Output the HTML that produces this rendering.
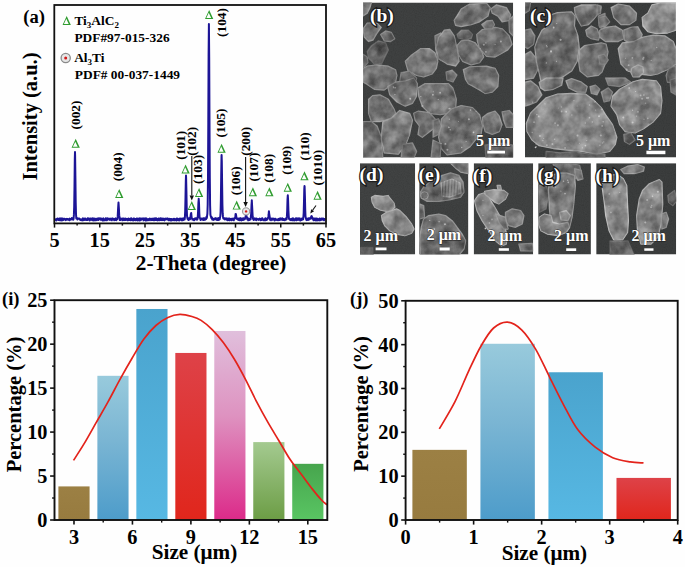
<!DOCTYPE html>
<html><head><meta charset="utf-8"><style>
html,body{margin:0;padding:0;background:#fff;overflow:hidden;}
svg{display:block;}
text{font-family:"Liberation Serif",serif;font-weight:bold;}
</style></head><body>
<svg width="685" height="567" viewBox="0 0 685 567">
<defs>
<linearGradient id="gOl" x1="0" y1="0" x2="0" y2="1"><stop offset="0" stop-color="#9c8044"/><stop offset="1" stop-color="#977b3f"/></linearGradient>
<linearGradient id="gLb" x1="0" y1="0" x2="0" y2="1"><stop offset="0" stop-color="#98cadc"/><stop offset="0.45" stop-color="#7ab5d3"/><stop offset="1" stop-color="#4d9cca"/></linearGradient>
<linearGradient id="gBl" x1="0" y1="0" x2="0" y2="1"><stop offset="0" stop-color="#4aa3cd"/><stop offset="1" stop-color="#57b8e3"/></linearGradient>
<linearGradient id="gRd" x1="0" y1="0" x2="0" y2="1"><stop offset="0" stop-color="#de4248"/><stop offset="1" stop-color="#e0261c"/></linearGradient>
<linearGradient id="gPk" x1="0" y1="0" x2="0" y2="1"><stop offset="0" stop-color="#e0bfdc"/><stop offset="0.45" stop-color="#de92c0"/><stop offset="1" stop-color="#dc2a89"/></linearGradient>
<linearGradient id="gLg" x1="0" y1="0" x2="0" y2="1"><stop offset="0" stop-color="#a4ca90"/><stop offset="1" stop-color="#6c9d45"/></linearGradient>
<linearGradient id="gGr" x1="0" y1="0" x2="0" y2="1"><stop offset="0" stop-color="#47a54d"/><stop offset="1" stop-color="#59c563"/></linearGradient>
<linearGradient id="shade" x1="0" y1="0" x2="1" y2="1"><stop offset="0" stop-color="#fff" stop-opacity="0.10"/><stop offset="0.5" stop-color="#fff" stop-opacity="0"/><stop offset="1" stop-color="#000" stop-opacity="0.12"/></linearGradient>
<filter id="ptex" x="0" y="0" width="100%" height="100%" color-interpolation-filters="sRGB"><feTurbulence type="fractalNoise" baseFrequency="0.08" numOctaves="3" seed="9"/><feColorMatrix type="matrix" values="1.6 0 0 0 -0.33  1.6 0 0 0 -0.33  1.6 0 0 0 -0.33  0 0 0 0 0.3"/><feComposite in2="SourceAlpha" operator="in"/></filter>
<filter id="soft" x="-5%" y="-5%" width="110%" height="110%"><feGaussianBlur stdDeviation="0.45"/></filter>
<filter id="soft2" x="-5%" y="-5%" width="110%" height="110%"><feGaussianBlur stdDeviation="0.9"/></filter>
<filter id="grain" x="0" y="0" width="100%" height="100%"><feTurbulence type="fractalNoise" baseFrequency="0.9" numOctaves="2" seed="4" result="n"/><feColorMatrix in="n" type="matrix" values="0 0 0 0 0.5  0 0 0 0 0.5  0 0 0 0 0.5  0 0 0 0.10 0"/><feComposite in2="SourceGraphic" operator="in"/></filter>
<clipPath id="cpb"><rect x="363" y="2.5" width="150.20" height="155.00"/></clipPath>
<clipPath id="cpc"><rect x="525" y="2.5" width="151.00" height="155.00"/></clipPath>
<clipPath id="cpd"><rect x="360" y="163.2" width="55.20" height="91.30"/></clipPath>
<clipPath id="cpe"><rect x="419.2" y="163.2" width="49.20" height="91.30"/></clipPath>
<clipPath id="cpf"><rect x="473.7" y="163.2" width="59.50" height="91.30"/></clipPath>
<clipPath id="cpg"><rect x="538.2" y="163.2" width="52.70" height="91.30"/></clipPath>
<clipPath id="cph"><rect x="596.2" y="163.2" width="80.00" height="91.30"/></clipPath>
</defs>
<rect width="685" height="567" fill="#fefefe"/>
<g clip-path="url(#cpb)">
<rect x="363" y="2.5" width="150.20" height="155.00" fill="#383a3a"/>
<g filter="url(#soft)">
<polygon points="363.0,2.0 371.5,2.0 370.0,7.6 367.2,13.3 363.0,16.1" fill="#787878" stroke="#9a9a9a" stroke-width="1.26" stroke-linejoin="round"/><polygon points="363.0,2.0 371.5,2.0 370.0,7.6 367.2,13.3 363.0,16.1" fill="url(#shade)"/>
<polygon points="363.0,28.8 367.2,23.2 377.1,23.2 381.3,27.4 377.1,33.0 372.9,40.1 368.6,41.5 364.4,37.3" fill="#6a6a6a" stroke="#939393" stroke-width="1.26" stroke-linejoin="round"/><polygon points="363.0,28.8 367.2,23.2 377.1,23.2 381.3,27.4 377.1,33.0 372.9,40.1 368.6,41.5 364.4,37.3" fill="url(#shade)"/>
<polygon points="380.6,34.5 385.6,30.9 391.2,32.3 394.7,38.7 390.5,41.5 384.2,40.8" fill="#5f5f5f" stroke="#878787" stroke-width="1.26" stroke-linejoin="round"/><polygon points="380.6,34.5 385.6,30.9 391.2,32.3 394.7,38.7 390.5,41.5 384.2,40.8" fill="url(#shade)"/>
<polygon points="371.5,45.7 378.5,40.8 385.6,42.9 388.4,50.0 384.2,58.4 381.3,64.1 374.3,64.1 368.6,58.4 367.2,51.4" fill="#4c4c4c" stroke="#626262" stroke-width="1.26" stroke-linejoin="round"/><polygon points="371.5,45.7 378.5,40.8 385.6,42.9 388.4,50.0 384.2,58.4 381.3,64.1 374.3,64.1 368.6,58.4 367.2,51.4" fill="url(#shade)"/>
<polygon points="363.0,54.2 367.2,57.0 367.9,62.7 364.4,66.9 363.0,66.9" fill="#5c5c5c" stroke="#797979" stroke-width="1.26" stroke-linejoin="round"/><polygon points="363.0,54.2 367.2,57.0 367.9,62.7 364.4,66.9 363.0,66.9" fill="url(#shade)"/>
<polygon points="363.0,68.3 367.2,66.2 377.1,64.8 388.4,66.2 395.5,69.7 396.9,75.4 395.5,82.0 391.2,85.1 384.2,90.0 374.3,89.3 365.8,83.6 363.0,82.0" fill="#666666" stroke="#909090" stroke-width="1.26" stroke-linejoin="round"/><polygon points="363.0,68.3 367.2,66.2 377.1,64.8 388.4,66.2 395.5,69.7 396.9,75.4 395.5,82.0 391.2,85.1 384.2,90.0 374.3,89.3 365.8,83.6 363.0,82.0" fill="url(#shade)"/>
<polygon points="405.3,61.3 411.0,55.6 420.8,48.6 429.3,48.6 435.0,52.8 437.8,61.3 436.4,68.3 432.1,74.0 423.7,76.8 416.6,75.4 408.1,71.1" fill="#6a6a6a" stroke="#959595" stroke-width="1.26" stroke-linejoin="round"/><polygon points="405.3,61.3 411.0,55.6 420.8,48.6 429.3,48.6 435.0,52.8 437.8,61.3 436.4,68.3 432.1,74.0 423.7,76.8 416.6,75.4 408.1,71.1" fill="url(#shade)"/>
<polygon points="435.0,35.9 440.6,33.0 443.0,34.5 443.0,61.3 437.8,58.4 435.7,48.6" fill="#666666" stroke="#8c8c8c" stroke-width="1.26" stroke-linejoin="round"/><polygon points="435.0,35.9 440.6,33.0 443.0,34.5 443.0,61.3 437.8,58.4 435.7,48.6" fill="url(#shade)"/>
<polygon points="401.1,72.5 409.6,71.1 416.6,78.2 415.2,82.0 399.7,82.0" fill="#5c5c5c" stroke="#7e7e7e" stroke-width="1.26" stroke-linejoin="round"/><polygon points="401.1,72.5 409.6,71.1 416.6,78.2 415.2,82.0 399.7,82.0" fill="url(#shade)"/>
<polygon points="454.2,20.3 461.2,9.1 469.7,4.1 486.6,3.4 490.1,7.6 488.0,16.1 479.6,21.8 471.1,24.6 461.2,26.7 455.6,25.3" fill="#6b6b6b" stroke="#959595" stroke-width="1.26" stroke-linejoin="round"/><polygon points="454.2,20.3 461.2,9.1 469.7,4.1 486.6,3.4 490.1,7.6 488.0,16.1 479.6,21.8 471.1,24.6 461.2,26.7 455.6,25.3" fill="url(#shade)"/>
<polygon points="490.8,9.1 496.5,4.8 506.4,7.6 510.6,14.7 509.2,20.3 502.1,21.8 497.9,16.1 492.3,13.3" fill="#6a6a6a" stroke="#939393" stroke-width="1.26" stroke-linejoin="round"/><polygon points="490.8,9.1 496.5,4.8 506.4,7.6 510.6,14.7 509.2,20.3 502.1,21.8 497.9,16.1 492.3,13.3" fill="url(#shade)"/>
<polygon points="476.7,34.5 482.4,29.5 495.1,27.4 502.1,28.8 509.2,35.9 512.0,44.3 507.8,50.0 495.1,57.0 486.6,56.3 479.6,48.6 477.4,41.5" fill="#646464" stroke="#909090" stroke-width="1.26" stroke-linejoin="round"/><polygon points="476.7,34.5 482.4,29.5 495.1,27.4 502.1,28.8 509.2,35.9 512.0,44.3 507.8,50.0 495.1,57.0 486.6,56.3 479.6,48.6 477.4,41.5" fill="url(#shade)"/>
<polygon points="435.8,48.6 438.6,37.3 444.3,30.2 449.9,29.5 454.2,35.9 457.0,48.6 459.1,61.3 455.6,66.2 447.1,64.1 438.6,58.4" fill="#646464" stroke="#939393" stroke-width="1.26" stroke-linejoin="round"/><polygon points="435.8,48.6 438.6,37.3 444.3,30.2 449.9,29.5 454.2,35.9 457.0,48.6 459.1,61.3 455.6,66.2 447.1,64.1 438.6,58.4" fill="url(#shade)"/>
<polygon points="457.0,34.5 461.2,30.2 468.3,30.2 472.5,34.5 471.1,38.7 464.0,39.4 458.4,38.0" fill="#4e4e4e" stroke="#6b6b6b" stroke-width="1.26" stroke-linejoin="round"/><polygon points="457.0,34.5 461.2,30.2 468.3,30.2 472.5,34.5 471.1,38.7 464.0,39.4 458.4,38.0" fill="url(#shade)"/>
<polygon points="457.0,45.7 461.2,40.8 468.3,40.1 475.3,42.9 481.7,51.4 483.8,57.0 479.6,62.7 471.1,64.8 462.6,61.3 458.4,54.2" fill="#666666" stroke="#939393" stroke-width="1.26" stroke-linejoin="round"/><polygon points="457.0,45.7 461.2,40.8 468.3,40.1 475.3,42.9 481.7,51.4 483.8,57.0 479.6,62.7 471.1,64.8 462.6,61.3 458.4,54.2" fill="url(#shade)"/>
<polygon points="481.7,24.6 486.6,21.0 492.3,20.3 494.4,24.6 492.3,28.8 485.2,28.8" fill="#6a6a6a" stroke="#8c8c8c" stroke-width="1.26" stroke-linejoin="round"/><polygon points="481.7,24.6 486.6,21.0 492.3,20.3 494.4,24.6 492.3,28.8 485.2,28.8" fill="url(#shade)"/>
<polygon points="509.0,20.0 513.2,16.0 513.2,36.0 509.5,32.0" fill="#6a6a6a" stroke="#8c8c8c" stroke-width="1.26" stroke-linejoin="round"/><polygon points="509.0,20.0 513.2,16.0 513.2,36.0 509.5,32.0" fill="url(#shade)"/>
<polygon points="463.3,69.7 469.7,66.9 486.6,66.2 495.1,68.3 498.6,75.4 497.9,86.5 492.3,92.1 485.2,93.5 478.2,89.3 468.3,83.6 465.5,79.4" fill="#666666" stroke="#939393" stroke-width="1.26" stroke-linejoin="round"/><polygon points="463.3,69.7 469.7,66.9 486.6,66.2 495.1,68.3 498.6,75.4 497.9,86.5 492.3,92.1 485.2,93.5 478.2,89.3 468.3,83.6 465.5,79.4" fill="url(#shade)"/>
<polygon points="446.0,72.0 452.0,70.0 457.0,75.0 453.0,82.0 447.0,80.0" fill="#5c5c5c" stroke="#7e7e7e" stroke-width="1.26" stroke-linejoin="round"/><polygon points="446.0,72.0 452.0,70.0 457.0,75.0 453.0,82.0 447.0,80.0" fill="url(#shade)"/>
<polygon points="387.7,86.5 395.5,82.2 405.3,80.8 413.8,78.0 417.3,83.6 416.6,96.3 412.4,103.4 405.3,106.2 396.9,102.0 389.8,94.9" fill="#666666" stroke="#939393" stroke-width="1.26" stroke-linejoin="round"/><polygon points="387.7,86.5 395.5,82.2 405.3,80.8 413.8,78.0 417.3,83.6 416.6,96.3 412.4,103.4 405.3,106.2 396.9,102.0 389.8,94.9" fill="url(#shade)"/>
<polygon points="418.0,87.9 425.1,83.6 433.0,83.6 448.5,83.6 452.8,87.9 456.3,99.2 455.6,107.6 448.5,113.3 440.1,114.7 429.3,113.3 422.3,106.2 418.7,96.3" fill="#646464" stroke="#929292" stroke-width="1.26" stroke-linejoin="round"/><polygon points="418.0,87.9 425.1,83.6 433.0,83.6 448.5,83.6 452.8,87.9 456.3,99.2 455.6,107.6 448.5,113.3 440.1,114.7 429.3,113.3 422.3,106.2 418.7,96.3" fill="url(#shade)"/>
<polygon points="368.6,99.2 372.9,95.6 379.9,94.9 388.4,99.2 394.0,109.0 395.5,113.3 391.2,118.9 379.9,121.7 371.5,121.7 368.6,113.3" fill="#646464" stroke="#939393" stroke-width="1.26" stroke-linejoin="round"/><polygon points="368.6,99.2 372.9,95.6 379.9,94.9 388.4,99.2 394.0,109.0 395.5,113.3 391.2,118.9 379.9,121.7 371.5,121.7 368.6,113.3" fill="url(#shade)"/>
<polygon points="363.0,121.7 371.5,121.7 377.1,126.0 381.3,137.3 382.8,158.0 363.0,158.0" fill="#5d5d5d" stroke="#878787" stroke-width="1.26" stroke-linejoin="round"/><polygon points="363.0,121.7 371.5,121.7 377.1,126.0 381.3,137.3 382.8,158.0 363.0,158.0" fill="url(#shade)"/>
<polygon points="382.8,121.7 391.2,118.2 399.7,110.5 409.6,113.3 412.4,120.3 409.6,134.4 405.3,145.7 398.3,154.2 384.2,152.8 381.3,138.7" fill="#787878" stroke="#9e9e9e" stroke-width="1.26" stroke-linejoin="round"/><polygon points="382.8,121.7 391.2,118.2 399.7,110.5 409.6,113.3 412.4,120.3 409.6,134.4 405.3,145.7 398.3,154.2 384.2,152.8 381.3,138.7" fill="url(#shade)"/>
<polygon points="413.8,113.3 418.0,111.2 429.3,112.6 435.0,118.9 437.8,124.6 433.5,128.8 427.9,133.0 422.3,137.3 418.0,134.4 419.4,126.0 415.2,120.3" fill="#6a6a6a" stroke="#939393" stroke-width="1.26" stroke-linejoin="round"/><polygon points="413.8,113.3 418.0,111.2 429.3,112.6 435.0,118.9 437.8,124.6 433.5,128.8 427.9,133.0 422.3,137.3 418.0,134.4 419.4,126.0 415.2,120.3" fill="url(#shade)"/>
<polygon points="402.5,144.3 412.4,142.9 416.6,151.4 413.8,158.0 401.1,158.0" fill="#616161" stroke="#858585" stroke-width="1.26" stroke-linejoin="round"/><polygon points="402.5,144.3 412.4,142.9 416.6,151.4 413.8,158.0 401.1,158.0" fill="url(#shade)"/>
<polygon points="441.5,118.9 451.3,109.0 461.2,105.5 472.5,107.6 479.6,114.7 482.4,126.0 481.0,134.4 475.3,140.1 469.7,147.1 461.2,152.8 447.1,154.9 441.5,148.5 438.6,137.3" fill="#646464" stroke="#939393" stroke-width="1.26" stroke-linejoin="round"/><polygon points="441.5,118.9 451.3,109.0 461.2,105.5 472.5,107.6 479.6,114.7 482.4,126.0 481.0,134.4 475.3,140.1 469.7,147.1 461.2,152.8 447.1,154.9 441.5,148.5 438.6,137.3" fill="url(#shade)"/>
<polygon points="482.4,117.5 488.0,113.3 495.1,111.2 499.3,116.1 502.1,124.6 499.3,131.6 492.3,134.4 485.2,131.6 483.1,124.6" fill="#646464" stroke="#909090" stroke-width="1.26" stroke-linejoin="round"/><polygon points="482.4,117.5 488.0,113.3 495.1,111.2 499.3,116.1 502.1,124.6 499.3,131.6 492.3,134.4 485.2,131.6 483.1,124.6" fill="url(#shade)"/>
<polygon points="502.1,111.9 509.2,110.5 513.2,114.7 513.2,127.4 506.4,127.4 503.5,120.3" fill="#686868" stroke="#8c8c8c" stroke-width="1.26" stroke-linejoin="round"/><polygon points="502.1,111.9 509.2,110.5 513.2,114.7 513.2,127.4 506.4,127.4 503.5,120.3" fill="url(#shade)"/>
<polygon points="433.0,120.3 438.6,118.9 441.5,126.0 438.6,134.4 433.0,137.3" fill="#5c5c5c" stroke="#838383" stroke-width="1.26" stroke-linejoin="round"/><polygon points="433.0,120.3 438.6,118.9 441.5,126.0 438.6,134.4 433.0,137.3" fill="url(#shade)"/>
<polygon points="433.0,140.0 441.0,144.0 440.0,158.0 431.0,158.0" fill="#5c5c5c" stroke="#838383" stroke-width="1.26" stroke-linejoin="round"/><polygon points="433.0,140.0 441.0,144.0 440.0,158.0 431.0,158.0" fill="url(#shade)"/>
<polygon points="485.0,145.0 500.0,143.0 513.2,145.0 513.2,158.0 486.0,158.0" fill="#505050" stroke="#6b6b6b" stroke-width="1.26" stroke-linejoin="round"/><polygon points="485.0,145.0 500.0,143.0 513.2,145.0 513.2,158.0 486.0,158.0" fill="url(#shade)"/>
</g><g>
<circle cx="445.4" cy="143.9" r="0.96" fill="#c8c8c8"/><circle cx="450.2" cy="129.8" r="0.77" fill="#c8c8c8"/><circle cx="466.1" cy="141.5" r="0.56" fill="#c8c8c8"/><circle cx="441.1" cy="143.4" r="0.76" fill="#c8c8c8"/><circle cx="470.5" cy="110.1" r="0.77" fill="#c8c8c8"/><circle cx="468.9" cy="119.2" r="1.07" fill="#c8c8c8"/><circle cx="476.1" cy="111.2" r="0.52" fill="#c8c8c8"/><circle cx="461.7" cy="147.6" r="0.73" fill="#c8c8c8"/><circle cx="448.7" cy="126.9" r="0.52" fill="#c8c8c8"/><circle cx="448.9" cy="127.5" r="0.80" fill="#c8c8c8"/><circle cx="449.3" cy="119.2" r="0.63" fill="#c8c8c8"/><circle cx="458.4" cy="121.6" r="0.51" fill="#c8c8c8"/><circle cx="473.5" cy="132.3" r="0.89" fill="#c8c8c8"/><circle cx="447.4" cy="149.7" r="1.02" fill="#c8c8c8"/><circle cx="448.7" cy="108.7" r="0.53" fill="#c8c8c8"/><circle cx="422.5" cy="105.9" r="0.94" fill="#c8c8c8"/><circle cx="440.1" cy="92.7" r="0.86" fill="#c8c8c8"/><circle cx="438.2" cy="99.5" r="0.60" fill="#c8c8c8"/><circle cx="432.9" cy="94.8" r="0.93" fill="#c8c8c8"/><circle cx="449.8" cy="108.7" r="0.83" fill="#c8c8c8"/><circle cx="433.3" cy="91.7" r="0.52" fill="#c8c8c8"/><circle cx="420.8" cy="96.6" r="0.69" fill="#c8c8c8"/><circle cx="485.9" cy="42.9" r="0.72" fill="#c8c8c8"/><circle cx="495.1" cy="44.5" r="0.54" fill="#c8c8c8"/><circle cx="480.3" cy="48.7" r="0.66" fill="#c8c8c8"/><circle cx="485.9" cy="51.9" r="0.78" fill="#c8c8c8"/><circle cx="500.9" cy="41.5" r="0.88" fill="#c8c8c8"/><circle cx="483.8" cy="44.7" r="1.02" fill="#c8c8c8"/><circle cx="395.2" cy="87.7" r="0.74" fill="#c8c8c8"/><circle cx="393.4" cy="87.1" r="0.74" fill="#c8c8c8"/><circle cx="410.2" cy="98.8" r="0.96" fill="#c8c8c8"/><circle cx="394.9" cy="94.6" r="0.67" fill="#c8c8c8"/><circle cx="393.8" cy="87.7" r="0.63" fill="#c8c8c8"/>
</g>
<g filter="url(#ptex)"><polygon points="363.0,2.0 371.5,2.0 370.0,7.6 367.2,13.3 363.0,16.1" fill="#000"/><polygon points="363.0,28.8 367.2,23.2 377.1,23.2 381.3,27.4 377.1,33.0 372.9,40.1 368.6,41.5 364.4,37.3" fill="#000"/><polygon points="380.6,34.5 385.6,30.9 391.2,32.3 394.7,38.7 390.5,41.5 384.2,40.8" fill="#000"/><polygon points="371.5,45.7 378.5,40.8 385.6,42.9 388.4,50.0 384.2,58.4 381.3,64.1 374.3,64.1 368.6,58.4 367.2,51.4" fill="#000"/><polygon points="363.0,54.2 367.2,57.0 367.9,62.7 364.4,66.9 363.0,66.9" fill="#000"/><polygon points="363.0,68.3 367.2,66.2 377.1,64.8 388.4,66.2 395.5,69.7 396.9,75.4 395.5,82.0 391.2,85.1 384.2,90.0 374.3,89.3 365.8,83.6 363.0,82.0" fill="#000"/><polygon points="405.3,61.3 411.0,55.6 420.8,48.6 429.3,48.6 435.0,52.8 437.8,61.3 436.4,68.3 432.1,74.0 423.7,76.8 416.6,75.4 408.1,71.1" fill="#000"/><polygon points="435.0,35.9 440.6,33.0 443.0,34.5 443.0,61.3 437.8,58.4 435.7,48.6" fill="#000"/><polygon points="401.1,72.5 409.6,71.1 416.6,78.2 415.2,82.0 399.7,82.0" fill="#000"/><polygon points="454.2,20.3 461.2,9.1 469.7,4.1 486.6,3.4 490.1,7.6 488.0,16.1 479.6,21.8 471.1,24.6 461.2,26.7 455.6,25.3" fill="#000"/><polygon points="490.8,9.1 496.5,4.8 506.4,7.6 510.6,14.7 509.2,20.3 502.1,21.8 497.9,16.1 492.3,13.3" fill="#000"/><polygon points="476.7,34.5 482.4,29.5 495.1,27.4 502.1,28.8 509.2,35.9 512.0,44.3 507.8,50.0 495.1,57.0 486.6,56.3 479.6,48.6 477.4,41.5" fill="#000"/><polygon points="435.8,48.6 438.6,37.3 444.3,30.2 449.9,29.5 454.2,35.9 457.0,48.6 459.1,61.3 455.6,66.2 447.1,64.1 438.6,58.4" fill="#000"/><polygon points="457.0,34.5 461.2,30.2 468.3,30.2 472.5,34.5 471.1,38.7 464.0,39.4 458.4,38.0" fill="#000"/><polygon points="457.0,45.7 461.2,40.8 468.3,40.1 475.3,42.9 481.7,51.4 483.8,57.0 479.6,62.7 471.1,64.8 462.6,61.3 458.4,54.2" fill="#000"/><polygon points="481.7,24.6 486.6,21.0 492.3,20.3 494.4,24.6 492.3,28.8 485.2,28.8" fill="#000"/><polygon points="509.0,20.0 513.2,16.0 513.2,36.0 509.5,32.0" fill="#000"/><polygon points="463.3,69.7 469.7,66.9 486.6,66.2 495.1,68.3 498.6,75.4 497.9,86.5 492.3,92.1 485.2,93.5 478.2,89.3 468.3,83.6 465.5,79.4" fill="#000"/><polygon points="446.0,72.0 452.0,70.0 457.0,75.0 453.0,82.0 447.0,80.0" fill="#000"/><polygon points="387.7,86.5 395.5,82.2 405.3,80.8 413.8,78.0 417.3,83.6 416.6,96.3 412.4,103.4 405.3,106.2 396.9,102.0 389.8,94.9" fill="#000"/><polygon points="418.0,87.9 425.1,83.6 433.0,83.6 448.5,83.6 452.8,87.9 456.3,99.2 455.6,107.6 448.5,113.3 440.1,114.7 429.3,113.3 422.3,106.2 418.7,96.3" fill="#000"/><polygon points="368.6,99.2 372.9,95.6 379.9,94.9 388.4,99.2 394.0,109.0 395.5,113.3 391.2,118.9 379.9,121.7 371.5,121.7 368.6,113.3" fill="#000"/><polygon points="363.0,121.7 371.5,121.7 377.1,126.0 381.3,137.3 382.8,158.0 363.0,158.0" fill="#000"/><polygon points="382.8,121.7 391.2,118.2 399.7,110.5 409.6,113.3 412.4,120.3 409.6,134.4 405.3,145.7 398.3,154.2 384.2,152.8 381.3,138.7" fill="#000"/><polygon points="413.8,113.3 418.0,111.2 429.3,112.6 435.0,118.9 437.8,124.6 433.5,128.8 427.9,133.0 422.3,137.3 418.0,134.4 419.4,126.0 415.2,120.3" fill="#000"/><polygon points="402.5,144.3 412.4,142.9 416.6,151.4 413.8,158.0 401.1,158.0" fill="#000"/><polygon points="441.5,118.9 451.3,109.0 461.2,105.5 472.5,107.6 479.6,114.7 482.4,126.0 481.0,134.4 475.3,140.1 469.7,147.1 461.2,152.8 447.1,154.9 441.5,148.5 438.6,137.3" fill="#000"/><polygon points="482.4,117.5 488.0,113.3 495.1,111.2 499.3,116.1 502.1,124.6 499.3,131.6 492.3,134.4 485.2,131.6 483.1,124.6" fill="#000"/><polygon points="502.1,111.9 509.2,110.5 513.2,114.7 513.2,127.4 506.4,127.4 503.5,120.3" fill="#000"/><polygon points="433.0,120.3 438.6,118.9 441.5,126.0 438.6,134.4 433.0,137.3" fill="#000"/><polygon points="433.0,140.0 441.0,144.0 440.0,158.0 431.0,158.0" fill="#000"/><polygon points="485.0,145.0 500.0,143.0 513.2,145.0 513.2,158.0 486.0,158.0" fill="#000"/></g>
<rect x="363" y="2.5" width="150.20" height="155.00" fill="#fff" filter="url(#grain)" opacity="0.9"/>
</g>
<text x="370.0" y="22.2" font-size="19.5" fill="#ffffff" stroke="#1c1c1c" stroke-width="2.6" paint-order="stroke" font-family="'Liberation Serif', serif" font-weight="bold">(b)</text>
<text x="476" y="146.4" font-size="16" fill="#ffffff" stroke="#202020" stroke-width="0.8" paint-order="stroke" font-family="'Liberation Serif', serif" font-weight="bold">5 μm</text>
<rect x="487.3" y="150.7" width="17.70" height="2.80" fill="#ffffff"/>
<g clip-path="url(#cpc)">
<rect x="525" y="2.5" width="151.00" height="155.00" fill="#353737"/>
<g filter="url(#soft)">
<polygon points="525.0,2.0 530.6,2.0 529.2,10.5 525.0,13.3" fill="#616161" stroke="#858585" stroke-width="1.26" stroke-linejoin="round"/><polygon points="525.0,2.0 530.6,2.0 529.2,10.5 525.0,13.3" fill="url(#shade)"/>
<polygon points="525.0,30.2 530.6,28.8 534.9,35.9 533.5,44.3 527.8,48.6 525.0,47.2" fill="#5f5f5f" stroke="#878787" stroke-width="1.26" stroke-linejoin="round"/><polygon points="525.0,30.2 530.6,28.8 534.9,35.9 533.5,44.3 527.8,48.6 525.0,47.2" fill="url(#shade)"/>
<polygon points="525.0,54.2 530.6,51.4 536.3,58.4 537.7,69.7 533.5,78.2 525.0,79.6" fill="#646464" stroke="#909090" stroke-width="1.26" stroke-linejoin="round"/><polygon points="525.0,54.2 530.6,51.4 536.3,58.4 537.7,69.7 533.5,78.2 525.0,79.6" fill="url(#shade)"/>
<polygon points="525.0,82.2 530.6,80.8 537.7,86.5 541.9,94.9 536.3,102.0 529.2,104.8 525.0,106.2" fill="#6a6a6a" stroke="#979797" stroke-width="1.26" stroke-linejoin="round"/><polygon points="525.0,82.2 530.6,80.8 537.7,86.5 541.9,94.9 536.3,102.0 529.2,104.8 525.0,106.2" fill="url(#shade)"/>
<polygon points="534.9,47.2 537.7,38.7 541.9,30.2 547.6,26.0 551.8,14.7 557.5,12.6 571.6,11.9 575.1,16.1 574.4,26.0 577.9,35.9 579.3,48.6 577.2,61.3 571.6,71.1 563.1,76.8 553.2,81.0 546.0,84.0 541.0,82.0 539.1,72.5 536.3,61.3" fill="#5d5d5d" stroke="#9e9e9e" stroke-width="1.26" stroke-linejoin="round"/><polygon points="534.9,47.2 537.7,38.7 541.9,30.2 547.6,26.0 551.8,14.7 557.5,12.6 571.6,11.9 575.1,16.1 574.4,26.0 577.9,35.9 579.3,48.6 577.2,61.3 571.6,71.1 563.1,76.8 553.2,81.0 546.0,84.0 541.0,82.0 539.1,72.5 536.3,61.3" fill="url(#shade)"/>
<polygon points="574.4,7.6 581.4,4.8 595.5,4.8 601.2,7.6 598.4,13.3 592.7,20.3 588.5,24.6 581.4,26.0 577.2,18.9 575.1,13.3" fill="#6a6a6a" stroke="#979797" stroke-width="1.26" stroke-linejoin="round"/><polygon points="574.4,7.6 581.4,4.8 595.5,4.8 601.2,7.6 598.4,13.3 592.7,20.3 588.5,24.6 581.4,26.0 577.2,18.9 575.1,13.3" fill="url(#shade)"/>
<polygon points="585.7,30.2 591.3,26.0 597.0,28.8 599.8,35.9 598.4,40.1 591.3,38.7 587.1,35.9" fill="#6a6a6a" stroke="#939393" stroke-width="1.26" stroke-linejoin="round"/><polygon points="585.7,30.2 591.3,26.0 597.0,28.8 599.8,35.9 598.4,40.1 591.3,38.7 587.1,35.9" fill="url(#shade)"/>
<polygon points="579.3,50.0 584.3,45.7 592.7,44.3 601.2,42.9 606.0,44.0 608.0,52.0 606.0,62.0 602.0,72.0 598.4,75.4 587.1,76.8 580.0,71.1 578.6,61.3" fill="#666666" stroke="#959595" stroke-width="1.26" stroke-linejoin="round"/><polygon points="579.3,50.0 584.3,45.7 592.7,44.3 601.2,42.9 606.0,44.0 608.0,52.0 606.0,62.0 602.0,72.0 598.4,75.4 587.1,76.8 580.0,71.1 578.6,61.3" fill="url(#shade)"/>
<polygon points="598.4,16.1 605.0,13.3 605.0,30.2 599.8,27.4" fill="#5f5f5f" stroke="#848484" stroke-width="1.26" stroke-linejoin="round"/><polygon points="598.4,16.1 605.0,13.3 605.0,30.2 599.8,27.4" fill="url(#shade)"/>
<polygon points="597.0,4.8 601.2,6.2 600.5,13.3 597.0,14.7" fill="#616161" stroke="#858585" stroke-width="1.26" stroke-linejoin="round"/><polygon points="597.0,4.8 601.2,6.2 600.5,13.3 597.0,14.7" fill="url(#shade)"/>
<polygon points="611.1,7.6 618.2,4.1 629.5,6.2 636.5,13.3 635.8,20.3 629.5,24.6 621.0,24.6 613.9,17.5" fill="#6d6d6d" stroke="#9e9e9e" stroke-width="1.26" stroke-linejoin="round"/><polygon points="611.1,7.6 618.2,4.1 629.5,6.2 636.5,13.3 635.8,20.3 629.5,24.6 621.0,24.6 613.9,17.5" fill="url(#shade)"/>
<polygon points="642.2,17.5 647.8,13.3 652.0,4.8 661.9,2.7 676.0,3.4 676.0,30.2 667.5,33.0 656.3,33.7 647.8,31.6 642.9,26.0" fill="#8e8e8e" stroke="#bababa" stroke-width="1.26" stroke-linejoin="round"/><polygon points="642.2,17.5 647.8,13.3 652.0,4.8 661.9,2.7 676.0,3.4 676.0,30.2 667.5,33.0 656.3,33.7 647.8,31.6 642.9,26.0" fill="url(#shade)"/>
<polygon points="599.8,30.2 605.5,27.4 615.3,26.0 622.4,30.2 623.8,38.7 618.2,41.5 605.5,41.5 599.8,37.3" fill="#6d6d6d" stroke="#9a9a9a" stroke-width="1.26" stroke-linejoin="round"/><polygon points="599.8,30.2 605.5,27.4 615.3,26.0 622.4,30.2 623.8,38.7 618.2,41.5 605.5,41.5 599.8,37.3" fill="url(#shade)"/>
<polygon points="623.8,30.2 630.9,27.4 637.9,26.7 642.2,34.5 639.3,42.9 630.9,44.3 624.5,40.1" fill="#646464" stroke="#909090" stroke-width="1.26" stroke-linejoin="round"/><polygon points="623.8,30.2 630.9,27.4 637.9,26.7 642.2,34.5 639.3,42.9 630.9,44.3 624.5,40.1" fill="url(#shade)"/>
<polygon points="618.2,48.6 622.4,42.9 633.7,41.5 642.2,37.3 653.4,35.2 664.7,35.9 673.2,41.5 676.0,48.6 676.0,64.1 670.4,68.3 657.7,74.0 650.6,75.4 639.3,74.0 628.0,71.1 621.0,64.1" fill="#797979" stroke="#a5a5a5" stroke-width="1.26" stroke-linejoin="round"/><polygon points="618.2,48.6 622.4,42.9 633.7,41.5 642.2,37.3 653.4,35.2 664.7,35.9 673.2,41.5 676.0,48.6 676.0,64.1 670.4,68.3 657.7,74.0 650.6,75.4 639.3,74.0 628.0,71.1 621.0,64.1" fill="url(#shade)"/>
<polygon points="631.6,68.3 637.9,64.8 642.9,66.9 643.6,72.5 639.3,76.8 633.0,76.8 630.9,72.5" fill="#787878" stroke="#a8a8a8" stroke-width="1.26" stroke-linejoin="round"/><polygon points="631.6,68.3 637.9,64.8 642.9,66.9 643.6,72.5 639.3,76.8 633.0,76.8 630.9,72.5" fill="url(#shade)"/>
<polygon points="598.4,55.6 604.1,54.2 608.3,59.9 605.5,64.1 599.8,64.1" fill="#5c5c5c" stroke="#7e7e7e" stroke-width="1.26" stroke-linejoin="round"/><polygon points="598.4,55.6 604.1,54.2 608.3,59.9 605.5,64.1 599.8,64.1" fill="url(#shade)"/>
<polygon points="669.0,68.3 676.0,65.5 676.0,82.0 667.5,82.0 666.1,75.4" fill="#5f5f5f" stroke="#848484" stroke-width="1.26" stroke-linejoin="round"/><polygon points="669.0,68.3 676.0,65.5 676.0,82.0 667.5,82.0 666.1,75.4" fill="url(#shade)"/>
<polygon points="598.4,17.5 605.5,16.1 609.7,21.8 605.5,26.7 599.1,26.0" fill="#5c5c5c" stroke="#7e7e7e" stroke-width="1.26" stroke-linejoin="round"/><polygon points="598.4,17.5 605.5,16.1 609.7,21.8 605.5,26.7 599.1,26.0" fill="url(#shade)"/>
<polygon points="539.1,82.2 546.2,78.0 563.1,78.0 561.7,85.1 553.2,89.3 544.8,90.7 540.5,87.9" fill="#6a6a6a" stroke="#9a9a9a" stroke-width="1.26" stroke-linejoin="round"/><polygon points="539.1,82.2 546.2,78.0 563.1,78.0 561.7,85.1 553.2,89.3 544.8,90.7 540.5,87.9" fill="url(#shade)"/>
<polygon points="565.9,80.8 571.6,78.7 581.4,82.2 587.1,86.5 585.7,92.1 577.2,92.1 568.7,87.9" fill="#6b6b6b" stroke="#9a9a9a" stroke-width="1.26" stroke-linejoin="round"/><polygon points="565.9,80.8 571.6,78.7 581.4,82.2 587.1,86.5 585.7,92.1 577.2,92.1 568.7,87.9" fill="url(#shade)"/>
<polygon points="589.9,86.5 595.5,85.1 599.8,89.3 597.0,94.9 591.3,93.5" fill="#5f5f5f" stroke="#858585" stroke-width="1.26" stroke-linejoin="round"/><polygon points="589.9,86.5 595.5,85.1 599.8,89.3 597.0,94.9 591.3,93.5" fill="url(#shade)"/>
<polygon points="601.2,92.1 608.3,87.9 612.5,92.1 609.7,100.6 604.1,102.0" fill="#5f5f5f" stroke="#858585" stroke-width="1.26" stroke-linejoin="round"/><polygon points="601.2,92.1 608.3,87.9 612.5,92.1 609.7,100.6 604.1,102.0" fill="url(#shade)"/>
<polygon points="605.5,78.0 625.2,78.0 630.9,82.2 619.6,86.5 608.3,85.1" fill="#5c5c5c" stroke="#7e7e7e" stroke-width="1.26" stroke-linejoin="round"/><polygon points="605.5,78.0 625.2,78.0 630.9,82.2 619.6,86.5 608.3,85.1" fill="url(#shade)"/>
<polygon points="526.4,123.2 530.6,113.3 539.1,104.8 546.2,97.8 557.5,94.2 571.6,93.5 585.7,94.2 592.7,99.2 601.2,107.6 605.5,114.7 612.5,124.6 616.8,137.3 615.3,144.3 609.7,151.4 597.0,154.2 581.4,151.4 567.3,150.0 553.2,148.5 539.1,145.7 532.1,140.1 527.1,131.6" fill="#878787" stroke="#b0b0b0" stroke-width="1.26" stroke-linejoin="round"/><polygon points="526.4,123.2 530.6,113.3 539.1,104.8 546.2,97.8 557.5,94.2 571.6,93.5 585.7,94.2 592.7,99.2 601.2,107.6 605.5,114.7 612.5,124.6 616.8,137.3 615.3,144.3 609.7,151.4 597.0,154.2 581.4,151.4 567.3,150.0 553.2,148.5 539.1,145.7 532.1,140.1 527.1,131.6" fill="url(#shade)"/>
<polygon points="612.5,96.3 619.6,89.3 632.3,82.2 642.2,79.4 656.3,80.8 660.5,86.5 661.9,100.6 660.5,113.3 653.4,121.7 643.6,128.8 635.1,133.0 625.2,131.6 619.6,124.6 616.8,114.7 611.1,106.2" fill="#848484" stroke="#b1b1b1" stroke-width="1.26" stroke-linejoin="round"/><polygon points="612.5,96.3 619.6,89.3 632.3,82.2 642.2,79.4 656.3,80.8 660.5,86.5 661.9,100.6 660.5,113.3 653.4,121.7 643.6,128.8 635.1,133.0 625.2,131.6 619.6,124.6 616.8,114.7 611.1,106.2" fill="url(#shade)"/>
<polygon points="623.8,134.4 630.9,133.0 635.1,140.1 629.5,144.3 624.5,141.5" fill="#5c5c5c" stroke="#7e7e7e" stroke-width="1.26" stroke-linejoin="round"/><polygon points="623.8,134.4 630.9,133.0 635.1,140.1 629.5,144.3 624.5,141.5" fill="url(#shade)"/>
<polygon points="546.2,151.4 560.3,152.8 574.4,151.4 588.5,154.2 605.0,154.2 605.0,158.0 546.2,158.0" fill="#535353" stroke="#707070" stroke-width="1.26" stroke-linejoin="round"/><polygon points="546.2,151.4 560.3,152.8 574.4,151.4 588.5,154.2 605.0,154.2 605.0,158.0 546.2,158.0" fill="url(#shade)"/>
<polygon points="670.0,80.0 676.0,78.0 676.0,95.0 671.0,92.0" fill="#5c5c5c" stroke="#7e7e7e" stroke-width="1.26" stroke-linejoin="round"/><polygon points="670.0,80.0 676.0,78.0 676.0,95.0 671.0,92.0" fill="url(#shade)"/>
</g><g>
<circle cx="577.5" cy="135.6" r="0.98" fill="#c8c8c8"/><circle cx="600.8" cy="135.5" r="1.05" fill="#c8c8c8"/><circle cx="534.1" cy="122.3" r="1.07" fill="#c8c8c8"/><circle cx="579.4" cy="143.2" r="0.57" fill="#c8c8c8"/><circle cx="566.2" cy="111.8" r="0.83" fill="#c8c8c8"/><circle cx="573.9" cy="100.6" r="0.63" fill="#c8c8c8"/><circle cx="552.4" cy="144.0" r="0.96" fill="#c8c8c8"/><circle cx="543.7" cy="138.3" r="0.58" fill="#c8c8c8"/><circle cx="577.1" cy="106.1" r="0.50" fill="#c8c8c8"/><circle cx="595.6" cy="110.1" r="0.63" fill="#c8c8c8"/><circle cx="603.7" cy="141.9" r="0.67" fill="#c8c8c8"/><circle cx="602.2" cy="125.9" r="0.91" fill="#c8c8c8"/><circle cx="546.9" cy="145.2" r="0.91" fill="#c8c8c8"/><circle cx="602.6" cy="142.9" r="0.68" fill="#c8c8c8"/><circle cx="558.4" cy="108.0" r="0.59" fill="#c8c8c8"/><circle cx="536.8" cy="114.5" r="0.86" fill="#c8c8c8"/><circle cx="532.2" cy="132.5" r="0.70" fill="#c8c8c8"/><circle cx="554.6" cy="139.3" r="0.79" fill="#c8c8c8"/><circle cx="555.1" cy="123.1" r="0.92" fill="#c8c8c8"/><circle cx="536.2" cy="146.8" r="0.51" fill="#c8c8c8"/><circle cx="586.7" cy="140.6" r="0.51" fill="#c8c8c8"/><circle cx="589.5" cy="117.6" r="0.85" fill="#c8c8c8"/><circle cx="532.7" cy="102.2" r="0.61" fill="#c8c8c8"/><circle cx="601.7" cy="109.4" r="0.95" fill="#c8c8c8"/><circle cx="599.9" cy="145.2" r="0.71" fill="#c8c8c8"/><circle cx="557.9" cy="125.2" r="0.97" fill="#c8c8c8"/><circle cx="539.9" cy="135.9" r="0.98" fill="#c8c8c8"/><circle cx="594.8" cy="101.8" r="1.07" fill="#c8c8c8"/><circle cx="538.7" cy="116.4" r="0.87" fill="#c8c8c8"/><circle cx="599.0" cy="116.3" r="1.05" fill="#c8c8c8"/><circle cx="571.8" cy="115.0" r="0.69" fill="#c8c8c8"/><circle cx="545.0" cy="103.8" r="0.59" fill="#c8c8c8"/><circle cx="582.3" cy="147.8" r="0.60" fill="#c8c8c8"/><circle cx="535.5" cy="147.4" r="0.82" fill="#c8c8c8"/><circle cx="561.6" cy="111.4" r="0.86" fill="#c8c8c8"/><circle cx="592.3" cy="121.9" r="0.75" fill="#c8c8c8"/><circle cx="536.1" cy="144.0" r="0.52" fill="#c8c8c8"/><circle cx="568.0" cy="140.2" r="0.58" fill="#c8c8c8"/><circle cx="585.4" cy="145.6" r="0.88" fill="#c8c8c8"/><circle cx="589.5" cy="105.1" r="0.76" fill="#c8c8c8"/><circle cx="542.9" cy="140.5" r="0.68" fill="#c8c8c8"/><circle cx="565.1" cy="148.0" r="1.01" fill="#c8c8c8"/><circle cx="603.2" cy="121.8" r="0.79" fill="#c8c8c8"/><circle cx="585.3" cy="123.0" r="0.67" fill="#c8c8c8"/><circle cx="561.5" cy="107.0" r="0.73" fill="#c8c8c8"/><circle cx="647.8" cy="118.4" r="0.79" fill="#c8c8c8"/><circle cx="629.2" cy="88.0" r="0.90" fill="#c8c8c8"/><circle cx="636.5" cy="116.1" r="0.72" fill="#c8c8c8"/><circle cx="647.0" cy="98.1" r="0.98" fill="#c8c8c8"/><circle cx="645.5" cy="103.3" r="0.82" fill="#c8c8c8"/><circle cx="643.9" cy="95.1" r="0.83" fill="#c8c8c8"/><circle cx="648.2" cy="97.8" r="0.98" fill="#c8c8c8"/><circle cx="644.0" cy="119.2" r="0.70" fill="#c8c8c8"/><circle cx="623.3" cy="117.6" r="0.98" fill="#c8c8c8"/><circle cx="635.6" cy="91.5" r="0.62" fill="#c8c8c8"/><circle cx="642.2" cy="98.8" r="1.07" fill="#c8c8c8"/><circle cx="640.6" cy="95.4" r="0.89" fill="#c8c8c8"/><circle cx="632.6" cy="122.5" r="1.05" fill="#c8c8c8"/><circle cx="638.0" cy="111.8" r="0.92" fill="#c8c8c8"/><circle cx="648.2" cy="124.1" r="0.52" fill="#c8c8c8"/><circle cx="632.6" cy="110.3" r="0.68" fill="#c8c8c8"/><circle cx="553.7" cy="27.5" r="0.89" fill="#c8c8c8"/><circle cx="547.0" cy="46.8" r="0.72" fill="#c8c8c8"/><circle cx="546.6" cy="45.4" r="0.52" fill="#c8c8c8"/><circle cx="556.7" cy="23.5" r="0.55" fill="#c8c8c8"/><circle cx="556.5" cy="61.3" r="0.57" fill="#c8c8c8"/><circle cx="551.0" cy="51.4" r="1.07" fill="#c8c8c8"/><circle cx="560.6" cy="39.8" r="1.09" fill="#c8c8c8"/><circle cx="546.3" cy="62.9" r="0.67" fill="#c8c8c8"/><circle cx="643.1" cy="59.0" r="1.05" fill="#c8c8c8"/><circle cx="643.6" cy="57.7" r="0.85" fill="#c8c8c8"/><circle cx="632.4" cy="57.8" r="0.88" fill="#c8c8c8"/><circle cx="656.7" cy="47.4" r="0.68" fill="#c8c8c8"/><circle cx="628.6" cy="65.2" r="0.92" fill="#c8c8c8"/><circle cx="626.7" cy="69.6" r="1.08" fill="#c8c8c8"/><circle cx="651.2" cy="60.4" r="0.59" fill="#c8c8c8"/><circle cx="625.6" cy="58.2" r="0.54" fill="#c8c8c8"/>
</g>
<g filter="url(#ptex)"><polygon points="525.0,2.0 530.6,2.0 529.2,10.5 525.0,13.3" fill="#000"/><polygon points="525.0,30.2 530.6,28.8 534.9,35.9 533.5,44.3 527.8,48.6 525.0,47.2" fill="#000"/><polygon points="525.0,54.2 530.6,51.4 536.3,58.4 537.7,69.7 533.5,78.2 525.0,79.6" fill="#000"/><polygon points="525.0,82.2 530.6,80.8 537.7,86.5 541.9,94.9 536.3,102.0 529.2,104.8 525.0,106.2" fill="#000"/><polygon points="534.9,47.2 537.7,38.7 541.9,30.2 547.6,26.0 551.8,14.7 557.5,12.6 571.6,11.9 575.1,16.1 574.4,26.0 577.9,35.9 579.3,48.6 577.2,61.3 571.6,71.1 563.1,76.8 553.2,81.0 546.0,84.0 541.0,82.0 539.1,72.5 536.3,61.3" fill="#000"/><polygon points="574.4,7.6 581.4,4.8 595.5,4.8 601.2,7.6 598.4,13.3 592.7,20.3 588.5,24.6 581.4,26.0 577.2,18.9 575.1,13.3" fill="#000"/><polygon points="585.7,30.2 591.3,26.0 597.0,28.8 599.8,35.9 598.4,40.1 591.3,38.7 587.1,35.9" fill="#000"/><polygon points="579.3,50.0 584.3,45.7 592.7,44.3 601.2,42.9 606.0,44.0 608.0,52.0 606.0,62.0 602.0,72.0 598.4,75.4 587.1,76.8 580.0,71.1 578.6,61.3" fill="#000"/><polygon points="598.4,16.1 605.0,13.3 605.0,30.2 599.8,27.4" fill="#000"/><polygon points="597.0,4.8 601.2,6.2 600.5,13.3 597.0,14.7" fill="#000"/><polygon points="611.1,7.6 618.2,4.1 629.5,6.2 636.5,13.3 635.8,20.3 629.5,24.6 621.0,24.6 613.9,17.5" fill="#000"/><polygon points="642.2,17.5 647.8,13.3 652.0,4.8 661.9,2.7 676.0,3.4 676.0,30.2 667.5,33.0 656.3,33.7 647.8,31.6 642.9,26.0" fill="#000"/><polygon points="599.8,30.2 605.5,27.4 615.3,26.0 622.4,30.2 623.8,38.7 618.2,41.5 605.5,41.5 599.8,37.3" fill="#000"/><polygon points="623.8,30.2 630.9,27.4 637.9,26.7 642.2,34.5 639.3,42.9 630.9,44.3 624.5,40.1" fill="#000"/><polygon points="618.2,48.6 622.4,42.9 633.7,41.5 642.2,37.3 653.4,35.2 664.7,35.9 673.2,41.5 676.0,48.6 676.0,64.1 670.4,68.3 657.7,74.0 650.6,75.4 639.3,74.0 628.0,71.1 621.0,64.1" fill="#000"/><polygon points="631.6,68.3 637.9,64.8 642.9,66.9 643.6,72.5 639.3,76.8 633.0,76.8 630.9,72.5" fill="#000"/><polygon points="598.4,55.6 604.1,54.2 608.3,59.9 605.5,64.1 599.8,64.1" fill="#000"/><polygon points="669.0,68.3 676.0,65.5 676.0,82.0 667.5,82.0 666.1,75.4" fill="#000"/><polygon points="598.4,17.5 605.5,16.1 609.7,21.8 605.5,26.7 599.1,26.0" fill="#000"/><polygon points="539.1,82.2 546.2,78.0 563.1,78.0 561.7,85.1 553.2,89.3 544.8,90.7 540.5,87.9" fill="#000"/><polygon points="565.9,80.8 571.6,78.7 581.4,82.2 587.1,86.5 585.7,92.1 577.2,92.1 568.7,87.9" fill="#000"/><polygon points="589.9,86.5 595.5,85.1 599.8,89.3 597.0,94.9 591.3,93.5" fill="#000"/><polygon points="601.2,92.1 608.3,87.9 612.5,92.1 609.7,100.6 604.1,102.0" fill="#000"/><polygon points="605.5,78.0 625.2,78.0 630.9,82.2 619.6,86.5 608.3,85.1" fill="#000"/><polygon points="526.4,123.2 530.6,113.3 539.1,104.8 546.2,97.8 557.5,94.2 571.6,93.5 585.7,94.2 592.7,99.2 601.2,107.6 605.5,114.7 612.5,124.6 616.8,137.3 615.3,144.3 609.7,151.4 597.0,154.2 581.4,151.4 567.3,150.0 553.2,148.5 539.1,145.7 532.1,140.1 527.1,131.6" fill="#000"/><polygon points="612.5,96.3 619.6,89.3 632.3,82.2 642.2,79.4 656.3,80.8 660.5,86.5 661.9,100.6 660.5,113.3 653.4,121.7 643.6,128.8 635.1,133.0 625.2,131.6 619.6,124.6 616.8,114.7 611.1,106.2" fill="#000"/><polygon points="623.8,134.4 630.9,133.0 635.1,140.1 629.5,144.3 624.5,141.5" fill="#000"/><polygon points="546.2,151.4 560.3,152.8 574.4,151.4 588.5,154.2 605.0,154.2 605.0,158.0 546.2,158.0" fill="#000"/><polygon points="670.0,80.0 676.0,78.0 676.0,95.0 671.0,92.0" fill="#000"/></g>
<rect x="525" y="2.5" width="151.00" height="155.00" fill="#fff" filter="url(#grain)" opacity="0.9"/>
</g>
<text x="530.0" y="22.0" font-size="19.5" fill="#ffffff" stroke="#1c1c1c" stroke-width="2.6" paint-order="stroke" font-family="'Liberation Serif', serif" font-weight="bold">(c)</text>
<text x="636" y="145.8" font-size="16" fill="#ffffff" stroke="#202020" stroke-width="0.8" paint-order="stroke" font-family="'Liberation Serif', serif" font-weight="bold">5 μm</text>
<rect x="646.4" y="150.7" width="19.00" height="3.50" fill="#ffffff"/>
<g clip-path="url(#cpd)">
<rect x="360" y="163.2" width="55.20" height="91.30" fill="#3a3c3c"/>
<g filter="url(#soft)">
<polygon points="360.5,247.5 373.1,247.5 373.1,254.5 360.5,254.5" fill="#454545" stroke="#4d4d4d" stroke-width="1.26" stroke-linejoin="round"/><polygon points="360.5,247.5 373.1,247.5 373.1,254.5 360.5,254.5" fill="url(#shade)"/>
<polygon points="371.4,197.2 374.8,195.5 383.1,196.4 388.2,195.5 389.8,198.0 394.0,203.1 394.9,207.2 391.5,210.6 386.5,211.4 379.8,209.8 374.8,207.2 372.2,202.2" fill="#999999" stroke="#b7b7b7" stroke-width="1.26" stroke-linejoin="round"/><polygon points="371.4,197.2 374.8,195.5 383.1,196.4 388.2,195.5 389.8,198.0 394.0,203.1 394.9,207.2 391.5,210.6 386.5,211.4 379.8,209.8 374.8,207.2 372.2,202.2" fill="url(#shade)"/>
<polygon points="381.5,215.6 386.5,212.3 391.5,210.6 396.5,208.9 399.9,210.6 406.6,217.3 411.6,224.0 414.1,229.0 411.6,233.2 404.9,235.7 396.5,234.1 389.8,230.7 384.8,225.7 382.3,220.7" fill="#8c8c8c" stroke="#b3b3b3" stroke-width="1.26" stroke-linejoin="round"/><polygon points="381.5,215.6 386.5,212.3 391.5,210.6 396.5,208.9 399.9,210.6 406.6,217.3 411.6,224.0 414.1,229.0 411.6,233.2 404.9,235.7 396.5,234.1 389.8,230.7 384.8,225.7 382.3,220.7" fill="url(#shade)"/>
</g><g>
</g>
<g filter="url(#ptex)"><polygon points="360.5,247.5 373.1,247.5 373.1,254.5 360.5,254.5" fill="#000"/><polygon points="371.4,197.2 374.8,195.5 383.1,196.4 388.2,195.5 389.8,198.0 394.0,203.1 394.9,207.2 391.5,210.6 386.5,211.4 379.8,209.8 374.8,207.2 372.2,202.2" fill="#000"/><polygon points="381.5,215.6 386.5,212.3 391.5,210.6 396.5,208.9 399.9,210.6 406.6,217.3 411.6,224.0 414.1,229.0 411.6,233.2 404.9,235.7 396.5,234.1 389.8,230.7 384.8,225.7 382.3,220.7" fill="#000"/></g>
<rect x="360" y="163.2" width="55.20" height="91.30" fill="#fff" filter="url(#grain)" opacity="0.9"/>
</g>
<g clip-path="url(#cpe)">
<rect x="419.2" y="163.2" width="49.20" height="91.30" fill="#383a3a"/>
<g filter="url(#soft)">
<polygon points="450.5,163.2 468.4,163.2 468.4,173.7 460.6,172.1 455.5,167.9" fill="#787878" stroke="#a1a1a1" stroke-width="1.26" stroke-linejoin="round"/><polygon points="450.5,163.2 468.4,163.2 468.4,173.7 460.6,172.1 455.5,167.9" fill="url(#shade)"/>
<polygon points="420.4,192.2 423.7,187.1 432.1,180.4 442.1,175.4 450.5,172.9 458.9,175.4 463.1,182.1 463.9,192.2 460.6,197.2 450.5,199.7 438.8,201.4 427.1,201.4 421.2,198.0" fill="#5f5f5f" stroke="#8c8c8c" stroke-width="1.26" stroke-linejoin="round"/><polygon points="420.4,192.2 423.7,187.1 432.1,180.4 442.1,175.4 450.5,172.9 458.9,175.4 463.1,182.1 463.9,192.2 460.6,197.2 450.5,199.7 438.8,201.4 427.1,201.4 421.2,198.0" fill="url(#shade)"/>
<polygon points="441.0,183.0 452.0,179.0 460.0,183.0 461.0,193.0 450.0,197.0 442.0,196.0" fill="#858585" stroke="#a8a8a8" stroke-width="1.26" stroke-linejoin="round"/><polygon points="441.0,183.0 452.0,179.0 460.0,183.0 461.0,193.0 450.0,197.0 442.0,196.0" fill="url(#shade)"/>
<polygon points="419.5,203.9 423.7,205.6 424.5,217.3 419.5,219.0" fill="#6a6a6a" stroke="#909090" stroke-width="1.26" stroke-linejoin="round"/><polygon points="419.5,203.9 423.7,205.6 424.5,217.3 419.5,219.0" fill="url(#shade)"/>
<polygon points="423.7,219.0 428.7,215.6 438.8,214.0 445.5,215.6 452.2,220.7 457.2,227.4 462.2,234.1 465.6,240.8 463.9,249.1 458.9,255.0 420.4,255.0 419.5,239.1 421.2,227.4" fill="#5d5d5d" stroke="#939393" stroke-width="1.26" stroke-linejoin="round"/><polygon points="423.7,219.0 428.7,215.6 438.8,214.0 445.5,215.6 452.2,220.7 457.2,227.4 462.2,234.1 465.6,240.8 463.9,249.1 458.9,255.0 420.4,255.0 419.5,239.1 421.2,227.4" fill="url(#shade)"/>
</g><g>
<line x1="443" y1="181.0" x2="442" y2="197.0" stroke="#5a5a5a" stroke-width="0.9"/><line x1="446" y1="180.6" x2="445" y2="196.7" stroke="#5a5a5a" stroke-width="0.9"/><line x1="449" y1="180.2" x2="448" y2="196.4" stroke="#5a5a5a" stroke-width="0.9"/><line x1="452" y1="179.8" x2="451" y2="196.1" stroke="#5a5a5a" stroke-width="0.9"/><line x1="455" y1="179.4" x2="454" y2="195.8" stroke="#5a5a5a" stroke-width="0.9"/><line x1="458" y1="179.0" x2="457" y2="195.5" stroke="#5a5a5a" stroke-width="0.9"/><circle cx="424.5" cy="195.5" r="3.8" fill="none" stroke="#a0a0a0" stroke-width="1"/><circle cx="429.5" cy="239.2" r="0.58" fill="#c8c8c8"/><circle cx="439.1" cy="221.7" r="0.65" fill="#c8c8c8"/><circle cx="445.0" cy="224.2" r="0.89" fill="#c8c8c8"/><circle cx="434.2" cy="229.1" r="0.80" fill="#c8c8c8"/><circle cx="428.8" cy="236.6" r="0.55" fill="#c8c8c8"/><circle cx="429.7" cy="220.4" r="0.66" fill="#c8c8c8"/>
</g>
<g filter="url(#ptex)"><polygon points="450.5,163.2 468.4,163.2 468.4,173.7 460.6,172.1 455.5,167.9" fill="#000"/><polygon points="420.4,192.2 423.7,187.1 432.1,180.4 442.1,175.4 450.5,172.9 458.9,175.4 463.1,182.1 463.9,192.2 460.6,197.2 450.5,199.7 438.8,201.4 427.1,201.4 421.2,198.0" fill="#000"/><polygon points="441.0,183.0 452.0,179.0 460.0,183.0 461.0,193.0 450.0,197.0 442.0,196.0" fill="#000"/><polygon points="419.5,203.9 423.7,205.6 424.5,217.3 419.5,219.0" fill="#000"/><polygon points="423.7,219.0 428.7,215.6 438.8,214.0 445.5,215.6 452.2,220.7 457.2,227.4 462.2,234.1 465.6,240.8 463.9,249.1 458.9,255.0 420.4,255.0 419.5,239.1 421.2,227.4" fill="#000"/></g>
<rect x="419.2" y="163.2" width="49.20" height="91.30" fill="#fff" filter="url(#grain)" opacity="0.9"/>
</g>
<g clip-path="url(#cpf)">
<rect x="473.7" y="163.2" width="59.50" height="91.30" fill="#393b3b"/>
<g filter="url(#soft)">
<polygon points="474.5,200.5 478.7,194.7 483.7,193.0 488.8,197.2 493.8,205.6 499.6,215.6 504.7,227.3 507.2,235.7 506.3,244.1 501.3,245.8 495.5,240.7 488.8,230.7 482.1,220.6 477.0,210.6" fill="#8b8b8b" stroke="#b3b3b3" stroke-width="1.26" stroke-linejoin="round"/><polygon points="474.5,200.5 478.7,194.7 483.7,193.0 488.8,197.2 493.8,205.6 499.6,215.6 504.7,227.3 507.2,235.7 506.3,244.1 501.3,245.8 495.5,240.7 488.8,230.7 482.1,220.6 477.0,210.6" fill="url(#shade)"/>
<polygon points="484.6,191.3 493.8,189.6 503.8,190.5 508.0,193.8 505.5,198.9 498.8,203.9 494.6,202.2 488.8,197.2 485.4,194.7" fill="#8e8e8e" stroke="#b3b3b3" stroke-width="1.26" stroke-linejoin="round"/><polygon points="484.6,191.3 493.8,189.6 503.8,190.5 508.0,193.8 505.5,198.9 498.8,203.9 494.6,202.2 488.8,197.2 485.4,194.7" fill="url(#shade)"/>
<polygon points="497.1,185.5 500.5,185.5 501.3,189.6 498.0,189.6" fill="#8b8b8b" stroke="#b0b0b0" stroke-width="1.26" stroke-linejoin="round"/><polygon points="497.1,185.5 500.5,185.5 501.3,189.6 498.0,189.6" fill="url(#shade)"/>
<polygon points="505.5,212.3 512.2,208.9 520.6,210.6 523.9,215.6 522.3,224.0 515.6,227.3 508.9,225.7 505.5,220.6" fill="#646464" stroke="#939393" stroke-width="1.26" stroke-linejoin="round"/><polygon points="505.5,212.3 512.2,208.9 520.6,210.6 523.9,215.6 522.3,224.0 515.6,227.3 508.9,225.7 505.5,220.6" fill="url(#shade)"/>
<polygon points="495.5,213.9 505.5,217.3 508.0,229.0 503.8,229.0 498.8,222.3" fill="#787878" stroke="#9e9e9e" stroke-width="1.26" stroke-linejoin="round"/><polygon points="495.5,213.9 505.5,217.3 508.0,229.0 503.8,229.0 498.8,222.3" fill="url(#shade)"/>
<polygon points="518.9,244.1 532.3,243.3 533.2,250.8 520.6,250.8" fill="#6a6a6a" stroke="#8c8c8c" stroke-width="1.26" stroke-linejoin="round"/><polygon points="518.9,244.1 532.3,243.3 533.2,250.8 520.6,250.8" fill="url(#shade)"/>
</g><g>
<circle cx="489.5" cy="223.0" r="0.90" fill="#c8c8c8"/><circle cx="482.9" cy="200.4" r="0.72" fill="#c8c8c8"/><circle cx="485.5" cy="228.4" r="0.91" fill="#c8c8c8"/><circle cx="492.0" cy="219.5" r="0.90" fill="#c8c8c8"/><circle cx="482.9" cy="215.4" r="0.60" fill="#c8c8c8"/>
</g>
<g filter="url(#ptex)"><polygon points="474.5,200.5 478.7,194.7 483.7,193.0 488.8,197.2 493.8,205.6 499.6,215.6 504.7,227.3 507.2,235.7 506.3,244.1 501.3,245.8 495.5,240.7 488.8,230.7 482.1,220.6 477.0,210.6" fill="#000"/><polygon points="484.6,191.3 493.8,189.6 503.8,190.5 508.0,193.8 505.5,198.9 498.8,203.9 494.6,202.2 488.8,197.2 485.4,194.7" fill="#000"/><polygon points="497.1,185.5 500.5,185.5 501.3,189.6 498.0,189.6" fill="#000"/><polygon points="505.5,212.3 512.2,208.9 520.6,210.6 523.9,215.6 522.3,224.0 515.6,227.3 508.9,225.7 505.5,220.6" fill="#000"/><polygon points="495.5,213.9 505.5,217.3 508.0,229.0 503.8,229.0 498.8,222.3" fill="#000"/><polygon points="518.9,244.1 532.3,243.3 533.2,250.8 520.6,250.8" fill="#000"/></g>
<rect x="473.7" y="163.2" width="59.50" height="91.30" fill="#fff" filter="url(#grain)" opacity="0.9"/>
</g>
<g clip-path="url(#cpg)">
<rect x="538.2" y="163.2" width="52.70" height="91.30" fill="#363838"/>
<g filter="url(#soft)">
<polygon points="552.8,163.2 569.5,163.2 579.6,165.4 581.2,172.1 576.2,178.8 569.5,173.7 556.1,172.1" fill="#5c5c5c" stroke="#7e7e7e" stroke-width="1.26" stroke-linejoin="round"/><polygon points="552.8,163.2 569.5,163.2 579.6,165.4 581.2,172.1 576.2,178.8 569.5,173.7 556.1,172.1" fill="url(#shade)"/>
<polygon points="538.2,185.5 546.1,183.8 548.6,195.5 546.1,208.9 539.4,212.3" fill="#4e4e4e" stroke="#696969" stroke-width="1.26" stroke-linejoin="round"/><polygon points="538.2,185.5 546.1,183.8 548.6,195.5 546.1,208.9 539.4,212.3" fill="url(#shade)"/>
<polygon points="574.5,168.7 581.2,170.4 582.9,178.8 577.9,180.4 575.4,175.4" fill="#6a6a6a" stroke="#8c8c8c" stroke-width="1.26" stroke-linejoin="round"/><polygon points="574.5,168.7 581.2,170.4 582.9,178.8 577.9,180.4 575.4,175.4" fill="url(#shade)"/>
<polygon points="549.4,177.1 556.1,173.7 566.2,172.9 574.5,175.4 575.4,185.5 573.7,203.9 572.0,217.3 569.5,227.4 564.5,230.7 556.1,229.0 551.1,224.0 549.4,208.9 548.6,190.5" fill="#6f6f6f" stroke="#9e9e9e" stroke-width="1.26" stroke-linejoin="round"/><polygon points="549.4,177.1 556.1,173.7 566.2,172.9 574.5,175.4 575.4,185.5 573.7,203.9 572.0,217.3 569.5,227.4 564.5,230.7 556.1,229.0 551.1,224.0 549.4,208.9 548.6,190.5" fill="url(#shade)"/>
<polygon points="539.4,217.3 544.4,214.0 551.1,215.6 552.8,222.3 559.5,224.0 567.8,222.3 569.5,227.4 566.2,232.4 557.8,235.7 547.7,234.1 541.0,230.7 538.5,224.0" fill="#8e8e8e" stroke="#bababa" stroke-width="1.26" stroke-linejoin="round"/><polygon points="539.4,217.3 544.4,214.0 551.1,215.6 552.8,222.3 559.5,224.0 567.8,222.3 569.5,227.4 566.2,232.4 557.8,235.7 547.7,234.1 541.0,230.7 538.5,224.0" fill="url(#shade)"/>
<polygon points="559.5,212.3 566.2,210.6 570.4,215.6 567.8,220.7 561.1,219.8" fill="#939393" stroke="#bababa" stroke-width="1.26" stroke-linejoin="round"/><polygon points="559.5,212.3 566.2,210.6 570.4,215.6 567.8,220.7 561.1,219.8" fill="url(#shade)"/>
</g><g>
<circle cx="560.9" cy="191.2" r="0.58" fill="#c8c8c8"/><circle cx="567.7" cy="180.2" r="0.80" fill="#c8c8c8"/><circle cx="568.3" cy="182.4" r="0.83" fill="#c8c8c8"/><circle cx="563.5" cy="181.2" r="0.73" fill="#c8c8c8"/><circle cx="565.0" cy="193.6" r="0.94" fill="#c8c8c8"/><circle cx="555.7" cy="187.1" r="0.57" fill="#c8c8c8"/>
</g>
<g filter="url(#ptex)"><polygon points="552.8,163.2 569.5,163.2 579.6,165.4 581.2,172.1 576.2,178.8 569.5,173.7 556.1,172.1" fill="#000"/><polygon points="538.2,185.5 546.1,183.8 548.6,195.5 546.1,208.9 539.4,212.3" fill="#000"/><polygon points="574.5,168.7 581.2,170.4 582.9,178.8 577.9,180.4 575.4,175.4" fill="#000"/><polygon points="549.4,177.1 556.1,173.7 566.2,172.9 574.5,175.4 575.4,185.5 573.7,203.9 572.0,217.3 569.5,227.4 564.5,230.7 556.1,229.0 551.1,224.0 549.4,208.9 548.6,190.5" fill="#000"/><polygon points="539.4,217.3 544.4,214.0 551.1,215.6 552.8,222.3 559.5,224.0 567.8,222.3 569.5,227.4 566.2,232.4 557.8,235.7 547.7,234.1 541.0,230.7 538.5,224.0" fill="#000"/><polygon points="559.5,212.3 566.2,210.6 570.4,215.6 567.8,220.7 561.1,219.8" fill="#000"/></g>
<rect x="538.2" y="163.2" width="52.70" height="91.30" fill="#fff" filter="url(#grain)" opacity="0.9"/>
</g>
<g clip-path="url(#cph)">
<rect x="596.2" y="163.2" width="80.00" height="91.30" fill="#343636"/>
<g filter="url(#soft)">
<polygon points="620.8,169.5 627.5,166.2 637.6,164.5 644.3,167.0 643.5,171.2 634.2,173.7 624.2,173.7" fill="#6d6d6d" stroke="#9a9a9a" stroke-width="1.26" stroke-linejoin="round"/><polygon points="620.8,169.5 627.5,166.2 637.6,164.5 644.3,167.0 643.5,171.2 634.2,173.7 624.2,173.7" fill="url(#shade)"/>
<polygon points="602.4,178.8 607.4,175.4 617.5,174.6 623.3,178.8 626.7,185.5 627.5,203.9 628.4,220.7 627.5,232.4 622.5,240.0 614.1,240.8 609.1,230.7 605.7,215.6 604.1,200.6 602.4,188.8" fill="#8b8b8b" stroke="#c3c3c3" stroke-width="1.26" stroke-linejoin="round"/><polygon points="602.4,178.8 607.4,175.4 617.5,174.6 623.3,178.8 626.7,185.5 627.5,203.9 628.4,220.7 627.5,232.4 622.5,240.0 614.1,240.8 609.1,230.7 605.7,215.6 604.1,200.6 602.4,188.8" fill="url(#shade)"/>
<polygon points="639.3,198.9 642.6,190.5 649.3,183.8 659.4,179.6 661.9,182.1 662.7,203.9 661.1,224.0 657.7,237.4 651.0,244.1 640.9,244.1 637.6,232.4 636.7,215.6" fill="#848484" stroke="#b3b3b3" stroke-width="1.26" stroke-linejoin="round"/><polygon points="639.3,198.9 642.6,190.5 649.3,183.8 659.4,179.6 661.9,182.1 662.7,203.9 661.1,224.0 657.7,237.4 651.0,244.1 640.9,244.1 637.6,232.4 636.7,215.6" fill="url(#shade)"/>
<polygon points="661.1,214.0 666.1,212.3 668.6,219.0 666.1,227.4 661.9,229.0" fill="#6a6a6a" stroke="#939393" stroke-width="1.26" stroke-linejoin="round"/><polygon points="661.1,214.0 666.1,212.3 668.6,219.0 666.1,227.4 661.9,229.0" fill="url(#shade)"/>
<polygon points="667.8,195.5 674.5,190.5 677.0,200.6 672.8,205.6 668.6,202.2" fill="#515151" stroke="#707070" stroke-width="1.26" stroke-linejoin="round"/><polygon points="667.8,195.5 674.5,190.5 677.0,200.6 672.8,205.6 668.6,202.2" fill="url(#shade)"/>
<polygon points="610.0,241.0 628.0,241.0 634.0,254.5 610.0,254.5" fill="#454545" stroke="#5b5b5b" stroke-width="1.26" stroke-linejoin="round"/><polygon points="610.0,241.0 628.0,241.0 634.0,254.5 610.0,254.5" fill="url(#shade)"/>
</g><g>
<circle cx="651.1" cy="207.2" r="0.85" fill="#c8c8c8"/><circle cx="645.3" cy="222.5" r="0.99" fill="#c8c8c8"/><circle cx="652.5" cy="196.4" r="0.81" fill="#c8c8c8"/><circle cx="647.2" cy="200.0" r="1.07" fill="#c8c8c8"/><circle cx="657.9" cy="191.8" r="1.02" fill="#c8c8c8"/><circle cx="651.7" cy="205.3" r="0.67" fill="#c8c8c8"/><circle cx="610.9" cy="212.4" r="0.91" fill="#c8c8c8"/><circle cx="619.7" cy="192.4" r="0.64" fill="#c8c8c8"/><circle cx="609.2" cy="194.0" r="0.94" fill="#c8c8c8"/><circle cx="609.0" cy="206.3" r="0.63" fill="#c8c8c8"/>
</g>
<g filter="url(#ptex)"><polygon points="620.8,169.5 627.5,166.2 637.6,164.5 644.3,167.0 643.5,171.2 634.2,173.7 624.2,173.7" fill="#000"/><polygon points="602.4,178.8 607.4,175.4 617.5,174.6 623.3,178.8 626.7,185.5 627.5,203.9 628.4,220.7 627.5,232.4 622.5,240.0 614.1,240.8 609.1,230.7 605.7,215.6 604.1,200.6 602.4,188.8" fill="#000"/><polygon points="639.3,198.9 642.6,190.5 649.3,183.8 659.4,179.6 661.9,182.1 662.7,203.9 661.1,224.0 657.7,237.4 651.0,244.1 640.9,244.1 637.6,232.4 636.7,215.6" fill="#000"/><polygon points="661.1,214.0 666.1,212.3 668.6,219.0 666.1,227.4 661.9,229.0" fill="#000"/><polygon points="667.8,195.5 674.5,190.5 677.0,200.6 672.8,205.6 668.6,202.2" fill="#000"/><polygon points="610.0,241.0 628.0,241.0 634.0,254.5 610.0,254.5" fill="#000"/></g>
<rect x="596.2" y="163.2" width="80.00" height="91.30" fill="#fff" filter="url(#grain)" opacity="0.9"/>
</g>
<text x="359.6" y="181.0" font-size="19.5" fill="#ffffff" stroke="#1c1c1c" stroke-width="2.6" paint-order="stroke" font-family="'Liberation Serif', serif" font-weight="bold">(d)</text>
<text x="418.6" y="181.0" font-size="19.5" fill="#ffffff" stroke="#1c1c1c" stroke-width="2.6" paint-order="stroke" font-family="'Liberation Serif', serif" font-weight="bold">(e)</text>
<text x="472.8" y="181.6" font-size="19.5" fill="#ffffff" stroke="#1c1c1c" stroke-width="2.6" paint-order="stroke" font-family="'Liberation Serif', serif" font-weight="bold">(f)</text>
<text x="537.6" y="181.0" font-size="19.5" fill="#ffffff" stroke="#1c1c1c" stroke-width="2.6" paint-order="stroke" font-family="'Liberation Serif', serif" font-weight="bold">(g)</text>
<text x="595.6" y="181.6" font-size="19.5" fill="#ffffff" stroke="#1c1c1c" stroke-width="2.6" paint-order="stroke" font-family="'Liberation Serif', serif" font-weight="bold">(h)</text>
<text x="363.6" y="240.6" font-size="16" fill="#ffffff" stroke="#202020" stroke-width="0.8" paint-order="stroke" font-family="'Liberation Serif', serif" font-weight="bold">2 μm</text>
<rect x="375.6" y="247.5" width="10.90" height="2.80" fill="#ffffff"/>
<text x="426.8" y="239.9" font-size="16" fill="#ffffff" stroke="#202020" stroke-width="0.8" paint-order="stroke" font-family="'Liberation Serif', serif" font-weight="bold">2 μm</text>
<rect x="439.6" y="247.5" width="10.10" height="3.00" fill="#ffffff"/>
<text x="487.6" y="241.4" font-size="16" fill="#ffffff" stroke="#202020" stroke-width="0.8" paint-order="stroke" font-family="'Liberation Serif', serif" font-weight="bold">2 μm</text>
<rect x="498.8" y="248.2" width="10.10" height="2.60" fill="#ffffff"/>
<text x="554.1" y="241.4" font-size="16" fill="#ffffff" stroke="#202020" stroke-width="0.8" paint-order="stroke" font-family="'Liberation Serif', serif" font-weight="bold">2 μm</text>
<rect x="566.2" y="248.3" width="10.00" height="2.70" fill="#ffffff"/>
<text x="631.4" y="240.6" font-size="16" fill="#ffffff" stroke="#202020" stroke-width="0.8" paint-order="stroke" font-family="'Liberation Serif', serif" font-weight="bold">2 μm</text>
<rect x="644.3" y="248.3" width="9.20" height="2.50" fill="#ffffff"/>
<path d="M55.30,218.46 L55.60,220.01 L55.90,219.26 L56.20,219.88 L56.50,220.44 L56.80,219.48 L57.10,219.39 L57.40,218.45 L57.70,218.88 L58.00,219.39 L58.30,219.78 L58.60,220.06 L58.90,219.13 L59.20,218.43 L59.50,218.92 L59.80,220.29 L60.10,218.76 L60.40,219.28 L60.70,220.34 L61.00,218.34 L61.30,219.61 L61.60,220.38 L61.90,218.79 L62.20,219.49 L62.50,220.28 L62.80,218.58 L63.10,219.43 L63.40,219.93 L63.70,219.75 L64.00,219.31 L64.30,218.73 L64.60,219.36 L64.90,219.09 L65.20,219.32 L65.50,219.08 L65.80,220.11 L66.10,219.96 L66.40,218.96 L66.70,219.52 L67.00,218.87 L67.30,219.25 L67.60,219.03 L67.90,219.70 L68.20,219.06 L68.50,219.25 L68.80,219.82 L69.10,219.14 L69.40,220.22 L69.70,218.61 L70.00,219.83 L70.30,219.12 L70.60,219.11 L70.90,219.55 L71.20,219.29 L71.50,219.02 L71.80,218.07 L72.10,218.22 L72.40,219.52 L72.70,219.02 L73.00,219.27 L73.30,219.63 L73.60,218.50 L73.90,214.90 L74.20,206.74 L74.50,186.00 L74.80,158.73 L75.00,152.00 L75.10,154.94 L75.40,177.43 L75.70,202.32 L76.00,214.00 L76.30,218.44 L76.60,217.70 L76.90,218.36 L77.20,218.85 L77.50,219.56 L77.80,219.07 L78.10,218.36 L78.40,218.85 L78.70,218.84 L79.00,218.81 L79.30,218.53 L79.60,219.10 L79.90,219.19 L80.20,219.92 L80.50,219.97 L80.80,219.38 L81.10,219.25 L81.40,219.95 L81.70,220.20 L82.00,219.73 L82.30,220.01 L82.60,220.32 L82.90,218.35 L83.20,220.19 L83.50,218.87 L83.80,219.31 L84.10,220.02 L84.40,219.85 L84.70,218.60 L85.00,219.72 L85.30,218.43 L85.60,219.06 L85.90,220.07 L86.20,219.22 L86.50,219.60 L86.80,219.88 L87.10,220.09 L87.40,219.96 L87.70,218.30 L88.00,219.21 L88.30,219.30 L88.60,218.41 L88.90,219.48 L89.20,219.62 L89.50,220.11 L89.80,220.36 L90.10,218.57 L90.40,218.79 L90.70,219.74 L91.00,218.58 L91.30,218.78 L91.60,219.55 L91.90,218.66 L92.20,220.01 L92.50,220.18 L92.80,218.36 L93.10,219.46 L93.40,220.04 L93.70,220.44 L94.00,218.89 L94.30,218.66 L94.60,220.22 L94.90,220.29 L95.20,218.73 L95.50,219.26 L95.80,219.87 L96.10,220.15 L96.40,218.66 L96.70,219.76 L97.00,220.07 L97.30,219.50 L97.60,218.65 L97.90,218.37 L98.20,218.91 L98.50,220.07 L98.80,218.39 L99.10,218.31 L99.40,219.09 L99.70,218.43 L100.00,218.62 L100.30,218.34 L100.60,219.45 L100.90,219.83 L101.20,219.23 L101.50,218.59 L101.80,219.02 L102.10,219.59 L102.40,220.36 L102.70,220.48 L103.00,218.82 L103.30,218.32 L103.60,220.12 L103.90,220.33 L104.20,219.30 L104.50,219.99 L104.80,220.20 L105.10,219.63 L105.40,220.21 L105.70,218.34 L106.00,218.89 L106.30,218.90 L106.60,218.56 L106.90,220.30 L107.20,218.36 L107.50,219.77 L107.80,218.45 L108.10,219.08 L108.40,219.21 L108.70,218.69 L109.00,219.44 L109.30,219.47 L109.60,218.99 L109.90,219.91 L110.20,218.64 L110.50,218.71 L110.80,219.07 L111.10,219.12 L111.40,218.74 L111.70,220.30 L112.00,220.10 L112.30,218.52 L112.60,219.09 L112.90,218.79 L113.20,219.27 L113.50,218.88 L113.80,219.37 L114.10,220.30 L114.40,219.10 L114.70,219.69 L115.00,219.56 L115.30,219.89 L115.60,218.36 L115.90,219.85 L116.20,220.27 L116.50,219.48 L116.80,218.74 L117.10,219.45 L117.40,218.98 L117.70,216.67 L118.00,210.19 L118.30,205.37 L118.50,202.50 L118.60,203.98 L118.90,208.46 L119.20,215.13 L119.50,217.04 L119.80,220.04 L120.10,219.88 L120.40,219.54 L120.70,219.85 L121.00,218.62 L121.30,218.90 L121.60,218.78 L121.90,219.56 L122.20,218.46 L122.50,220.23 L122.80,219.28 L123.10,219.25 L123.40,218.50 L123.70,219.78 L124.00,220.07 L124.30,219.66 L124.60,218.81 L124.90,220.01 L125.20,218.60 L125.50,220.10 L125.80,219.56 L126.10,218.92 L126.40,219.42 L126.70,219.67 L127.00,218.86 L127.30,220.15 L127.60,219.22 L127.90,220.25 L128.20,220.13 L128.50,218.51 L128.80,219.71 L129.10,218.97 L129.40,219.95 L129.70,219.49 L130.00,219.30 L130.30,220.26 L130.60,218.42 L130.90,219.52 L131.20,219.01 L131.50,218.37 L131.80,219.95 L132.10,219.53 L132.40,220.26 L132.70,219.61 L133.00,219.03 L133.30,220.46 L133.60,218.55 L133.90,218.41 L134.20,219.91 L134.50,219.11 L134.80,219.09 L135.10,220.22 L135.40,219.01 L135.70,220.25 L136.00,219.71 L136.30,219.02 L136.60,218.43 L136.90,218.83 L137.20,220.42 L137.50,219.19 L137.80,218.65 L138.10,218.95 L138.40,220.27 L138.70,218.66 L139.00,220.01 L139.30,218.59 L139.60,220.41 L139.90,219.46 L140.20,218.39 L140.50,220.34 L140.80,219.08 L141.10,219.90 L141.40,219.45 L141.70,218.50 L142.00,218.53 L142.30,218.62 L142.60,218.65 L142.90,218.41 L143.20,218.40 L143.50,220.38 L143.80,218.50 L144.10,219.41 L144.40,218.56 L144.70,218.77 L145.00,219.97 L145.30,220.36 L145.60,219.33 L145.90,218.31 L146.20,220.49 L146.50,218.40 L146.80,219.15 L147.10,219.48 L147.40,220.26 L147.70,220.10 L148.00,219.63 L148.30,219.17 L148.60,220.13 L148.90,220.21 L149.20,220.21 L149.50,219.87 L149.80,218.51 L150.10,218.95 L150.40,219.36 L150.70,219.40 L151.00,220.13 L151.30,218.82 L151.60,219.76 L151.90,219.12 L152.20,220.00 L152.50,218.72 L152.80,219.34 L153.10,218.52 L153.40,218.76 L153.70,220.35 L154.00,218.99 L154.30,220.26 L154.60,219.45 L154.90,218.38 L155.20,220.04 L155.50,218.41 L155.80,220.11 L156.10,218.31 L156.40,219.78 L156.70,218.66 L157.00,219.05 L157.30,220.39 L157.60,219.36 L157.90,219.74 L158.20,219.92 L158.50,218.53 L158.80,220.14 L159.10,220.30 L159.40,218.63 L159.70,219.49 L160.00,218.91 L160.30,219.92 L160.60,218.35 L160.90,219.42 L161.20,220.03 L161.50,219.91 L161.80,218.53 L162.10,220.12 L162.40,218.81 L162.70,220.07 L163.00,219.38 L163.30,218.64 L163.60,219.90 L163.90,220.07 L164.20,219.83 L164.50,220.41 L164.80,218.85 L165.10,218.81 L165.40,218.61 L165.70,219.47 L166.00,219.17 L166.30,219.07 L166.60,219.30 L166.90,218.89 L167.20,218.30 L167.50,219.32 L167.80,218.89 L168.10,219.28 L168.40,220.33 L168.70,218.68 L169.00,219.69 L169.30,219.70 L169.60,218.90 L169.90,219.32 L170.20,220.42 L170.50,219.04 L170.80,219.85 L171.10,220.13 L171.40,219.08 L171.70,220.46 L172.00,219.66 L172.30,219.38 L172.60,219.85 L172.90,219.21 L173.20,219.85 L173.50,218.88 L173.80,220.32 L174.10,219.47 L174.40,218.81 L174.70,219.24 L175.00,220.24 L175.30,220.05 L175.60,219.34 L175.90,219.04 L176.20,219.10 L176.50,220.43 L176.80,218.51 L177.10,220.22 L177.40,220.15 L177.70,218.76 L178.00,219.03 L178.30,219.51 L178.60,220.02 L178.90,220.34 L179.20,220.43 L179.50,218.86 L179.80,218.67 L180.10,219.31 L180.40,219.46 L180.70,219.67 L181.00,218.46 L181.30,219.63 L181.60,220.23 L181.90,220.20 L182.20,220.25 L182.50,220.18 L182.80,220.24 L183.10,218.20 L183.40,220.07 L183.70,218.59 L184.00,218.61 L184.30,218.78 L184.60,219.53 L184.90,217.31 L185.20,211.09 L185.50,197.26 L185.80,181.21 L186.00,175.60 L186.10,177.52 L186.40,190.66 L186.70,207.21 L187.00,215.61 L187.30,217.62 L187.60,218.92 L187.90,218.34 L188.20,219.20 L188.50,220.06 L188.80,219.90 L189.10,218.27 L189.40,218.52 L189.70,218.94 L190.00,219.28 L190.30,217.95 L190.60,215.80 L190.90,213.69 L191.10,213.50 L191.20,212.91 L191.50,216.34 L191.80,218.17 L192.10,218.64 L192.40,219.60 L192.70,219.27 L193.00,219.31 L193.30,218.97 L193.60,219.24 L193.90,220.34 L194.20,219.90 L194.50,219.99 L194.80,218.44 L195.10,219.27 L195.40,218.96 L195.70,218.33 L196.00,218.99 L196.30,218.26 L196.60,218.57 L196.90,219.76 L197.20,219.41 L197.50,219.04 L197.80,215.99 L198.10,211.24 L198.40,202.99 L198.70,199.70 L198.70,198.70 L199.00,203.15 L199.30,212.97 L199.60,217.75 L199.90,217.91 L200.20,218.41 L200.50,220.06 L200.80,219.24 L201.10,218.82 L201.40,219.04 L201.70,218.62 L202.00,219.30 L202.30,219.60 L202.60,219.13 L202.90,219.78 L203.20,218.20 L203.50,219.25 L203.80,220.06 L204.10,218.17 L204.40,218.87 L204.70,219.10 L205.00,218.38 L205.30,219.65 L205.60,218.46 L205.90,218.27 L206.20,218.97 L206.50,216.71 L206.80,218.11 L207.10,215.59 L207.40,213.50 L207.70,204.41 L208.00,177.34 L208.30,122.20 L208.60,56.35 L208.90,24.40 L208.90,24.06 L209.20,57.75 L209.50,124.13 L209.80,177.58 L210.10,205.38 L210.40,214.56 L210.70,216.13 L211.00,216.45 L211.30,218.00 L211.60,217.69 L211.90,217.24 L212.20,219.55 L212.50,219.65 L212.80,218.81 L213.10,219.07 L213.40,219.25 L213.70,219.87 L214.00,218.90 L214.30,219.19 L214.60,218.44 L214.90,218.50 L215.20,219.13 L215.50,218.50 L215.80,218.08 L216.10,218.83 L216.40,219.67 L216.70,218.63 L217.00,219.92 L217.30,219.56 L217.60,219.44 L217.90,219.95 L218.20,218.12 L218.50,218.31 L218.80,219.87 L219.10,219.79 L219.40,217.87 L219.70,219.24 L220.00,217.24 L220.30,216.34 L220.60,211.70 L220.90,198.79 L221.20,175.64 L221.50,157.44 L221.60,155.00 L221.80,160.93 L222.10,183.48 L222.40,204.48 L222.70,213.70 L223.00,216.71 L223.30,218.33 L223.60,218.76 L223.90,218.33 L224.20,218.72 L224.50,218.18 L224.80,219.45 L225.10,218.91 L225.40,218.43 L225.70,219.20 L226.00,218.58 L226.30,218.79 L226.60,218.43 L226.90,219.89 L227.20,218.79 L227.50,220.29 L227.80,219.09 L228.10,218.54 L228.40,219.76 L228.70,219.83 L229.00,220.16 L229.30,218.51 L229.60,219.96 L229.90,220.12 L230.20,218.90 L230.50,219.23 L230.80,219.60 L231.10,218.78 L231.40,220.15 L231.70,219.78 L232.00,220.12 L232.30,219.23 L232.60,219.38 L232.90,218.66 L233.20,218.92 L233.50,219.83 L233.80,220.32 L234.10,218.53 L234.40,218.27 L234.70,218.13 L235.00,218.24 L235.30,217.32 L235.60,213.95 L235.80,214.00 L235.90,214.07 L236.20,215.96 L236.50,218.68 L236.80,218.20 L237.10,218.16 L237.40,219.31 L237.70,219.00 L238.00,218.87 L238.30,219.94 L238.60,219.75 L238.90,218.43 L239.20,219.46 L239.50,220.01 L239.80,220.26 L240.10,218.26 L240.40,220.03 L240.70,218.35 L241.00,219.76 L241.30,219.57 L241.60,220.35 L241.90,219.64 L242.20,218.41 L242.50,219.72 L242.80,218.81 L243.10,220.07 L243.40,218.30 L243.70,218.93 L244.00,219.68 L244.30,218.47 L244.60,219.36 L244.90,219.01 L245.20,218.24 L245.50,217.44 L245.80,215.49 L246.00,215.50 L246.10,214.73 L246.40,215.72 L246.70,217.12 L247.00,217.34 L247.30,219.36 L247.60,218.20 L247.90,218.28 L248.20,220.23 L248.50,219.96 L248.80,218.74 L249.10,218.92 L249.40,219.97 L249.70,219.49 L250.00,218.67 L250.30,218.97 L250.60,219.50 L250.90,216.05 L251.20,213.62 L251.50,205.28 L251.80,201.00 L251.80,200.28 L252.10,205.80 L252.40,211.61 L252.70,216.96 L253.00,218.89 L253.30,218.54 L253.60,220.04 L253.90,219.68 L254.20,218.53 L254.50,218.53 L254.80,218.35 L255.10,219.48 L255.40,218.65 L255.70,219.44 L256.00,220.05 L256.30,220.19 L256.60,218.51 L256.90,218.99 L257.20,219.18 L257.50,219.11 L257.80,219.19 L258.10,219.28 L258.40,219.94 L258.70,218.95 L259.00,219.03 L259.30,219.13 L259.60,218.61 L259.90,219.66 L260.20,219.16 L260.50,220.29 L260.80,220.09 L261.10,218.79 L261.40,218.81 L261.70,220.00 L262.00,219.51 L262.30,218.30 L262.60,219.66 L262.90,219.15 L263.20,220.01 L263.50,219.92 L263.80,220.31 L264.10,219.81 L264.40,220.28 L264.70,218.90 L265.00,219.02 L265.30,218.40 L265.60,220.17 L265.90,218.60 L266.20,219.47 L266.50,219.37 L266.80,220.03 L267.10,219.07 L267.40,218.51 L267.70,218.94 L268.00,217.81 L268.30,216.99 L268.60,214.96 L268.90,211.23 L269.00,212.00 L269.20,213.87 L269.50,215.78 L269.80,217.61 L270.10,219.74 L270.40,218.45 L270.70,218.91 L271.00,220.29 L271.30,218.77 L271.60,219.86 L271.90,218.44 L272.20,219.44 L272.50,219.72 L272.80,218.73 L273.10,218.99 L273.40,219.49 L273.70,219.57 L274.00,218.62 L274.30,219.18 L274.60,220.48 L274.90,218.99 L275.20,220.01 L275.50,218.72 L275.80,219.30 L276.10,219.42 L276.40,219.59 L276.70,219.86 L277.00,220.03 L277.30,219.82 L277.60,220.06 L277.90,220.23 L278.20,219.00 L278.50,220.10 L278.80,219.42 L279.10,218.85 L279.40,218.66 L279.70,219.96 L280.00,219.68 L280.30,218.43 L280.60,219.57 L280.90,218.37 L281.20,219.13 L281.50,219.53 L281.80,219.70 L282.10,218.61 L282.40,218.36 L282.70,219.53 L283.00,220.06 L283.30,220.00 L283.60,219.03 L283.90,219.50 L284.20,219.81 L284.50,220.14 L284.80,219.28 L285.10,220.10 L285.40,218.85 L285.70,218.59 L286.00,218.69 L286.30,219.52 L286.60,219.38 L286.90,216.40 L287.20,210.83 L287.50,199.86 L287.80,195.20 L287.80,195.21 L288.10,200.52 L288.40,210.25 L288.70,215.78 L289.00,218.80 L289.30,219.39 L289.60,219.44 L289.90,219.74 L290.20,219.15 L290.50,220.05 L290.80,219.45 L291.10,220.15 L291.40,219.12 L291.70,219.77 L292.00,218.67 L292.30,218.43 L292.60,220.30 L292.90,219.07 L293.20,218.36 L293.50,219.62 L293.80,220.31 L294.10,219.95 L294.40,220.43 L294.70,220.32 L295.00,219.27 L295.30,218.78 L295.60,218.41 L295.90,218.86 L296.20,219.65 L296.50,220.27 L296.80,218.27 L297.10,220.06 L297.40,219.94 L297.70,219.78 L298.00,218.54 L298.30,218.37 L298.60,219.87 L298.90,219.66 L299.20,219.05 L299.50,219.00 L299.80,218.30 L300.10,220.41 L300.40,220.05 L300.70,220.34 L301.00,219.98 L301.30,219.17 L301.60,219.99 L301.90,218.53 L302.20,219.53 L302.50,218.49 L302.80,218.71 L303.10,219.38 L303.40,216.86 L303.70,212.81 L304.00,201.44 L304.30,188.72 L304.50,186.00 L304.60,186.29 L304.90,195.77 L305.20,209.13 L305.50,216.62 L305.80,217.65 L306.10,218.81 L306.40,220.10 L306.70,218.88 L307.00,220.14 L307.30,219.93 L307.60,219.23 L307.90,219.56 L308.20,218.32 L308.50,219.32 L308.80,219.86 L309.10,218.69 L309.40,218.27 L309.70,218.15 L310.00,218.25 L310.30,218.06 L310.60,218.74 L310.90,217.26 L311.20,216.80 L311.50,216.50 L311.50,216.06 L311.80,216.29 L312.10,217.48 L312.40,218.62 L312.70,217.96 L313.00,218.88 L313.30,219.53 L313.60,220.31 L313.90,218.82 L314.20,219.11 L314.50,219.51 L314.80,218.57 L315.10,219.61 L315.40,220.41 L315.70,218.87 L316.00,219.33 L316.30,218.53 L316.60,219.42 L316.90,220.42 L317.20,219.47 L317.50,218.75 L317.80,218.97 L318.10,219.66 L318.40,220.17 L318.70,219.28 L319.00,219.36 L319.30,220.07 L319.60,218.52 L319.90,220.38 L320.20,219.31 L320.50,219.02 L320.80,220.00 L321.10,218.85 L321.40,218.61 L321.70,218.86 L322.00,219.77 L322.30,218.51 L322.60,219.28 L322.90,218.81 L323.20,219.49 L323.50,218.60 L323.80,220.00 L324.10,220.33 L324.40,219.00 L324.70,219.07 L325.00,219.61 L325.30,219.92" fill="none" stroke="#1c1496" stroke-width="2.0" stroke-linejoin="round"/>
<rect x="54.3" y="5" width="271.7" height="218.4" fill="none" stroke="#111" stroke-width="1.8"/>
<line x1="54.50" y1="223.4" x2="54.50" y2="227.6" stroke="#111" stroke-width="1.5"/>
<line x1="77.12" y1="223.4" x2="77.12" y2="225.6" stroke="#111" stroke-width="1.5"/>
<line x1="99.75" y1="223.4" x2="99.75" y2="227.6" stroke="#111" stroke-width="1.5"/>
<line x1="122.38" y1="223.4" x2="122.38" y2="225.6" stroke="#111" stroke-width="1.5"/>
<line x1="145.00" y1="223.4" x2="145.00" y2="227.6" stroke="#111" stroke-width="1.5"/>
<line x1="167.62" y1="223.4" x2="167.62" y2="225.6" stroke="#111" stroke-width="1.5"/>
<line x1="190.25" y1="223.4" x2="190.25" y2="227.6" stroke="#111" stroke-width="1.5"/>
<line x1="212.88" y1="223.4" x2="212.88" y2="225.6" stroke="#111" stroke-width="1.5"/>
<line x1="235.50" y1="223.4" x2="235.50" y2="227.6" stroke="#111" stroke-width="1.5"/>
<line x1="258.12" y1="223.4" x2="258.12" y2="225.6" stroke="#111" stroke-width="1.5"/>
<line x1="280.75" y1="223.4" x2="280.75" y2="227.6" stroke="#111" stroke-width="1.5"/>
<line x1="303.38" y1="223.4" x2="303.38" y2="225.6" stroke="#111" stroke-width="1.5"/>
<line x1="326.00" y1="223.4" x2="326.00" y2="227.6" stroke="#111" stroke-width="1.5"/>
<text x="54.50" y="247.1" font-size="20.3" text-anchor="middle" font-family="'Liberation Serif', serif" font-weight="bold">5</text>
<text x="99.75" y="247.1" font-size="20.3" text-anchor="middle" font-family="'Liberation Serif', serif" font-weight="bold">15</text>
<text x="145.00" y="247.1" font-size="20.3" text-anchor="middle" font-family="'Liberation Serif', serif" font-weight="bold">25</text>
<text x="190.25" y="247.1" font-size="20.3" text-anchor="middle" font-family="'Liberation Serif', serif" font-weight="bold">35</text>
<text x="235.50" y="247.1" font-size="20.3" text-anchor="middle" font-family="'Liberation Serif', serif" font-weight="bold">45</text>
<text x="280.75" y="247.1" font-size="20.3" text-anchor="middle" font-family="'Liberation Serif', serif" font-weight="bold">55</text>
<text x="326.00" y="247.1" font-size="20.3" text-anchor="middle" font-family="'Liberation Serif', serif" font-weight="bold">65</text>
<text x="211.05" y="270.4" font-size="21.3" text-anchor="middle" font-family="'Liberation Serif', serif" font-weight="bold">2-Theta (degree)</text>
<text x="0" y="0" font-size="20.5" text-anchor="middle" transform="translate(36.8,116.5) rotate(-90)" font-family="'Liberation Serif', serif" font-weight="bold">Intensity (a.u.)</text>
<text x="23.2" y="22.5" font-size="18.6" font-family="'Liberation Serif', serif" font-weight="bold">(a)</text>
<path d="M62.55,25.00 L66.70,16.00 L70.85,25.00 Z M63.92,24.05 L66.31,18.87 L68.71,24.05 Z" fill="#2f9c2f" fill-rule="evenodd"/>
<text x="74.4" y="25.2" font-size="13.4" font-family="'Liberation Serif', serif" font-weight="bold">Ti<tspan font-size="9" dy="3">3</tspan><tspan dy="-3">AlC</tspan><tspan font-size="9" dy="3">2</tspan></text>
<text x="74.4" y="42.1" font-size="13.4" font-family="'Liberation Serif', serif" font-weight="bold">PDF#97-015-326</text>
<circle cx="65.7" cy="58" r="4.6" fill="#e6e6e6" stroke="#8a8a8a" stroke-width="1.3"/>
<circle cx="65.7" cy="58" r="1.5" fill="#d01818"/>
<text x="74.2" y="62.1" font-size="13.4" font-family="'Liberation Serif', serif" font-weight="bold">Al<tspan font-size="9" dy="3">3</tspan><tspan dy="-3">Ti</tspan></text>
<text x="74.8" y="78.8" font-size="13.4" font-family="'Liberation Serif', serif" font-weight="bold">PDF# 00-037-1449</text>
<path d="M71.55,147.80 L75.70,138.80 L79.85,147.80 Z M72.92,146.85 L75.31,141.67 L77.71,146.85 Z" fill="#2f9c2f" fill-rule="evenodd"/>
<path d="M115.10,198.00 L119.25,189.00 L123.40,198.00 Z M116.47,197.05 L118.86,191.87 L121.26,197.05 Z" fill="#2f9c2f" fill-rule="evenodd"/>
<path d="M181.45,173.40 L185.60,164.40 L189.75,173.40 Z M182.82,172.45 L185.21,167.27 L187.61,172.45 Z" fill="#2f9c2f" fill-rule="evenodd"/>
<path d="M187.65,210.00 L191.80,201.00 L195.95,210.00 Z M189.02,209.05 L191.41,203.87 L193.81,209.05 Z" fill="#2f9c2f" fill-rule="evenodd"/>
<path d="M194.95,197.00 L199.10,188.00 L203.25,197.00 Z M196.32,196.05 L198.71,190.87 L201.11,196.05 Z" fill="#2f9c2f" fill-rule="evenodd"/>
<path d="M205.00,19.00 L209.15,10.00 L213.30,19.00 Z M206.37,18.05 L208.76,12.87 L211.16,18.05 Z" fill="#2f9c2f" fill-rule="evenodd"/>
<path d="M217.45,152.70 L221.60,143.70 L225.75,152.70 Z M218.82,151.75 L221.21,146.57 L223.61,151.75 Z" fill="#2f9c2f" fill-rule="evenodd"/>
<path d="M232.55,209.60 L236.70,200.60 L240.85,209.60 Z M233.92,208.65 L236.31,203.47 L238.71,208.65 Z" fill="#2f9c2f" fill-rule="evenodd"/>
<path d="M248.75,196.30 L252.90,187.30 L257.05,196.30 Z M250.12,195.35 L252.51,190.17 L254.91,195.35 Z" fill="#2f9c2f" fill-rule="evenodd"/>
<path d="M265.25,196.30 L269.40,187.30 L273.55,196.30 Z M266.62,195.35 L269.01,190.17 L271.41,195.35 Z" fill="#2f9c2f" fill-rule="evenodd"/>
<path d="M283.65,191.70 L287.80,182.70 L291.95,191.70 Z M285.02,190.75 L287.41,185.57 L289.81,190.75 Z" fill="#2f9c2f" fill-rule="evenodd"/>
<path d="M300.35,180.30 L304.50,171.30 L308.65,180.30 Z M301.72,179.35 L304.11,174.17 L306.51,179.35 Z" fill="#2f9c2f" fill-rule="evenodd"/>
<path d="M313.45,199.80 L317.60,190.80 L321.75,199.80 Z M314.82,198.85 L317.21,193.67 L319.61,198.85 Z" fill="#2f9c2f" fill-rule="evenodd"/>
<circle cx="246.1" cy="211.4" r="3.6" fill="#e8e8e8" stroke="#9a9a9a" stroke-width="1.1"/>
<circle cx="246.1" cy="211.4" r="1.2" fill="#d01818"/>
<text x="0" y="0" font-size="13.4" text-anchor="middle" transform="translate(79.80,115.00) rotate(-90)" font-family="'Liberation Serif', serif" font-weight="bold">(002)</text>
<text x="0" y="0" font-size="13.4" text-anchor="middle" transform="translate(121.80,166.80) rotate(-90)" font-family="'Liberation Serif', serif" font-weight="bold">(004)</text>
<text x="0" y="0" font-size="13.4" text-anchor="middle" transform="translate(185.20,145.30) rotate(-90)" font-family="'Liberation Serif', serif" font-weight="bold">(101)</text>
<text x="0" y="0" font-size="13.4" text-anchor="middle" transform="translate(195.50,141.30) rotate(-90)" font-family="'Liberation Serif', serif" font-weight="bold">(102)</text>
<text x="0" y="0" font-size="13.4" text-anchor="middle" transform="translate(202.40,169.40) rotate(-90)" font-family="'Liberation Serif', serif" font-weight="bold">(103)</text>
<text x="0" y="0" font-size="13.4" text-anchor="middle" transform="translate(225.80,22.50) rotate(-90)" font-family="'Liberation Serif', serif" font-weight="bold">(104)</text>
<text x="0" y="0" font-size="13.4" text-anchor="middle" transform="translate(225.30,123.00) rotate(-90)" font-family="'Liberation Serif', serif" font-weight="bold">(105)</text>
<text x="0" y="0" font-size="13.4" text-anchor="middle" transform="translate(240.20,180.80) rotate(-90)" font-family="'Liberation Serif', serif" font-weight="bold">(106)</text>
<text x="0" y="0" font-size="13.4" text-anchor="middle" transform="translate(249.80,141.30) rotate(-90)" font-family="'Liberation Serif', serif" font-weight="bold">(200)</text>
<text x="0" y="0" font-size="13.4" text-anchor="middle" transform="translate(257.80,167.10) rotate(-90)" font-family="'Liberation Serif', serif" font-weight="bold">(107)</text>
<text x="0" y="0" font-size="13.4" text-anchor="middle" transform="translate(272.70,168.30) rotate(-90)" font-family="'Liberation Serif', serif" font-weight="bold">(108)</text>
<text x="0" y="0" font-size="13.4" text-anchor="middle" transform="translate(291.10,160.20) rotate(-90)" font-family="'Liberation Serif', serif" font-weight="bold">(109)</text>
<text x="0" y="0" font-size="13.4" text-anchor="middle" transform="translate(308.90,146.40) rotate(-90)" font-family="'Liberation Serif', serif" font-weight="bold">(110)</text>
<text x="0" y="0" font-size="13.4" text-anchor="middle" transform="translate(321.50,167.70) rotate(-90)" font-family="'Liberation Serif', serif" font-weight="bold">(1010)</text>
<line x1="191.8" y1="156" x2="191.80" y2="195.50" stroke="#111" stroke-width="1.1"/><path d="M191.8,200.5 L189.60,195.50 L194.00,195.50 Z" fill="#111"/>
<line x1="245.6" y1="157" x2="245.60" y2="202.00" stroke="#111" stroke-width="1.1"/><path d="M245.6,207 L243.40,202.00 L247.80,202.00 Z" fill="#111"/>
<line x1="316" y1="205.5" x2="312.62" y2="210.24" stroke="#111" stroke-width="1.1"/><path d="M310.3,213.5 L311.16,209.20 L314.09,211.29 Z" fill="#111"/>
<rect x="58.40" y="486.41" width="31.18" height="33.59" fill="url(#gOl)"/>
<rect x="97.37" y="375.81" width="31.18" height="144.19" fill="url(#gLb)"/>
<rect x="136.34" y="308.99" width="31.18" height="211.01" fill="url(#gBl)"/>
<rect x="175.31" y="352.95" width="31.18" height="167.05" fill="url(#gRd)"/>
<rect x="214.28" y="330.97" width="31.18" height="189.03" fill="url(#gPk)"/>
<rect x="253.25" y="442.10" width="31.18" height="77.90" fill="url(#gLg)"/>
<rect x="292.23" y="463.82" width="31.18" height="56.18" fill="url(#gGr)"/>
<path d="M73.50,460.40 C75.25,457.65 80.25,450.15 84.00,443.90 C87.75,437.65 92.00,429.90 96.00,422.90 C100.00,415.90 104.00,409.15 108.00,401.90 C112.00,394.65 116.02,386.63 120.00,379.40 C123.98,372.17 127.92,365.23 131.90,358.50 C135.88,351.77 139.90,344.50 143.90,339.00 C147.90,333.50 151.90,329.10 155.90,325.50 C159.90,321.90 163.90,319.25 167.90,317.40 C171.90,315.55 175.90,314.55 179.90,314.40 C183.90,314.25 188.37,315.50 191.90,316.50 C195.43,317.50 197.72,318.22 201.10,320.40 C204.48,322.58 208.50,325.90 212.20,329.60 C215.90,333.30 219.60,337.65 223.30,342.60 C227.00,347.55 230.68,353.13 234.40,359.30 C238.12,365.47 241.88,372.50 245.60,379.60 C249.32,386.70 253.00,394.80 256.70,401.90 C260.40,409.00 264.10,415.73 267.80,422.20 C271.50,428.67 275.20,434.52 278.90,440.70 C282.60,446.88 286.30,453.73 290.00,459.30 C293.70,464.87 297.40,469.17 301.10,474.10 C304.80,479.03 308.80,484.58 312.20,488.90 C315.60,493.22 319.03,497.35 321.50,500.00 C323.97,502.65 326.08,504.00 327.00,504.80" fill="none" stroke="#e3231b" stroke-width="1.7"/>
<rect x="54.5" y="300.2" width="272.80" height="219.80" fill="none" stroke="#111" stroke-width="1.9"/>
<line x1="73.99" y1="520" x2="73.99" y2="524.6" stroke="#111" stroke-width="1.6"/>
<line x1="132.44" y1="520" x2="132.44" y2="524.6" stroke="#111" stroke-width="1.6"/>
<line x1="190.90" y1="520" x2="190.90" y2="524.6" stroke="#111" stroke-width="1.6"/>
<line x1="249.36" y1="520" x2="249.36" y2="524.6" stroke="#111" stroke-width="1.6"/>
<line x1="307.81" y1="520" x2="307.81" y2="524.6" stroke="#111" stroke-width="1.6"/>
<line x1="103.21" y1="520" x2="103.21" y2="522.6" stroke="#111" stroke-width="1.4"/>
<line x1="161.67" y1="520" x2="161.67" y2="522.6" stroke="#111" stroke-width="1.4"/>
<line x1="220.13" y1="520" x2="220.13" y2="522.6" stroke="#111" stroke-width="1.4"/>
<line x1="278.59" y1="520" x2="278.59" y2="522.6" stroke="#111" stroke-width="1.4"/>
<line x1="54.5" y1="520.00" x2="50.1" y2="520.00" stroke="#111" stroke-width="1.6"/>
<line x1="54.5" y1="476.04" x2="50.1" y2="476.04" stroke="#111" stroke-width="1.6"/>
<line x1="54.5" y1="432.08" x2="50.1" y2="432.08" stroke="#111" stroke-width="1.6"/>
<line x1="54.5" y1="388.12" x2="50.1" y2="388.12" stroke="#111" stroke-width="1.6"/>
<line x1="54.5" y1="344.16" x2="50.1" y2="344.16" stroke="#111" stroke-width="1.6"/>
<line x1="54.5" y1="300.20" x2="50.1" y2="300.20" stroke="#111" stroke-width="1.6"/>
<line x1="54.5" y1="498.02" x2="52.1" y2="498.02" stroke="#111" stroke-width="1.4"/>
<line x1="54.5" y1="454.06" x2="52.1" y2="454.06" stroke="#111" stroke-width="1.4"/>
<line x1="54.5" y1="410.10" x2="52.1" y2="410.10" stroke="#111" stroke-width="1.4"/>
<line x1="54.5" y1="366.14" x2="52.1" y2="366.14" stroke="#111" stroke-width="1.4"/>
<line x1="54.5" y1="322.18" x2="52.1" y2="322.18" stroke="#111" stroke-width="1.4"/>
<text x="73.99" y="543.8" font-size="20.3" text-anchor="middle" font-family="'Liberation Serif', serif" font-weight="bold">3</text>
<text x="132.44" y="543.8" font-size="20.3" text-anchor="middle" font-family="'Liberation Serif', serif" font-weight="bold">6</text>
<text x="190.90" y="543.8" font-size="20.3" text-anchor="middle" font-family="'Liberation Serif', serif" font-weight="bold">9</text>
<text x="249.36" y="543.8" font-size="20.3" text-anchor="middle" font-family="'Liberation Serif', serif" font-weight="bold">12</text>
<text x="307.81" y="543.8" font-size="20.3" text-anchor="middle" font-family="'Liberation Serif', serif" font-weight="bold">15</text>
<text x="47.50" y="527.00" font-size="20.3" text-anchor="end" font-family="'Liberation Serif', serif" font-weight="bold">0</text>
<text x="47.50" y="483.04" font-size="20.3" text-anchor="end" font-family="'Liberation Serif', serif" font-weight="bold">5</text>
<text x="47.50" y="439.08" font-size="20.3" text-anchor="end" font-family="'Liberation Serif', serif" font-weight="bold">10</text>
<text x="47.50" y="395.12" font-size="20.3" text-anchor="end" font-family="'Liberation Serif', serif" font-weight="bold">15</text>
<text x="47.50" y="351.16" font-size="20.3" text-anchor="end" font-family="'Liberation Serif', serif" font-weight="bold">20</text>
<text x="47.50" y="307.20" font-size="20.3" text-anchor="end" font-family="'Liberation Serif', serif" font-weight="bold">25</text>
<text x="194.5" y="558.5" font-size="21.2" text-anchor="middle" font-family="'Liberation Serif', serif" font-weight="bold">Size (μm)</text>
<text x="0" y="0" font-size="20.5" text-anchor="middle" transform="translate(21.0,404.5) rotate(-90)" font-family="'Liberation Serif', serif" font-weight="bold">Percentage (%)</text>
<text x="2.0" y="304.9" font-size="18.5" font-family="'Liberation Serif', serif" font-weight="bold">(i)</text>
<rect x="412.40" y="449.86" width="54.42" height="70.14" fill="url(#gOl)"/>
<rect x="480.43" y="343.76" width="54.42" height="176.24" fill="url(#gLb)"/>
<rect x="548.45" y="372.26" width="54.42" height="147.74" fill="url(#gBl)"/>
<rect x="616.48" y="477.91" width="54.42" height="42.09" fill="url(#gRd)"/>
<path d="M439.30,428.90 C441.92,424.35 450.03,411.40 455.00,401.60 C459.97,391.80 464.72,379.45 469.10,370.10 C473.48,360.75 477.22,352.52 481.30,345.50 C485.38,338.48 489.22,331.90 493.60,328.00 C497.98,324.10 502.93,321.80 507.60,322.10 C512.27,322.40 516.93,325.30 521.60,329.80 C526.27,334.30 530.93,341.22 535.60,349.10 C540.27,356.98 544.92,367.77 549.60,377.10 C554.28,386.43 559.02,396.35 563.70,405.10 C568.38,413.85 572.45,422.58 577.70,429.60 C582.95,436.62 589.37,442.52 595.20,447.20 C601.03,451.88 606.87,455.25 612.70,457.70 C618.53,460.15 625.07,461.03 630.20,461.90 C635.33,462.77 641.28,462.73 643.50,462.90" fill="none" stroke="#e3231b" stroke-width="1.7"/>
<rect x="405.6" y="300.8" width="272.10" height="219.20" fill="none" stroke="#111" stroke-width="1.9"/>
<line x1="405.60" y1="520" x2="405.60" y2="524.6" stroke="#111" stroke-width="1.6"/>
<line x1="473.62" y1="520" x2="473.62" y2="524.6" stroke="#111" stroke-width="1.6"/>
<line x1="541.65" y1="520" x2="541.65" y2="524.6" stroke="#111" stroke-width="1.6"/>
<line x1="609.68" y1="520" x2="609.68" y2="524.6" stroke="#111" stroke-width="1.6"/>
<line x1="677.70" y1="520" x2="677.70" y2="524.6" stroke="#111" stroke-width="1.6"/>
<line x1="439.61" y1="520" x2="439.61" y2="522.6" stroke="#111" stroke-width="1.4"/>
<line x1="507.64" y1="520" x2="507.64" y2="522.6" stroke="#111" stroke-width="1.4"/>
<line x1="575.66" y1="520" x2="575.66" y2="522.6" stroke="#111" stroke-width="1.4"/>
<line x1="643.69" y1="520" x2="643.69" y2="522.6" stroke="#111" stroke-width="1.4"/>
<line x1="405.6" y1="520.00" x2="401.20000000000005" y2="520.00" stroke="#111" stroke-width="1.6"/>
<line x1="405.6" y1="476.16" x2="401.20000000000005" y2="476.16" stroke="#111" stroke-width="1.6"/>
<line x1="405.6" y1="432.32" x2="401.20000000000005" y2="432.32" stroke="#111" stroke-width="1.6"/>
<line x1="405.6" y1="388.48" x2="401.20000000000005" y2="388.48" stroke="#111" stroke-width="1.6"/>
<line x1="405.6" y1="344.64" x2="401.20000000000005" y2="344.64" stroke="#111" stroke-width="1.6"/>
<line x1="405.6" y1="300.80" x2="401.20000000000005" y2="300.80" stroke="#111" stroke-width="1.6"/>
<line x1="405.6" y1="498.08" x2="403.20000000000005" y2="498.08" stroke="#111" stroke-width="1.4"/>
<line x1="405.6" y1="454.24" x2="403.20000000000005" y2="454.24" stroke="#111" stroke-width="1.4"/>
<line x1="405.6" y1="410.40" x2="403.20000000000005" y2="410.40" stroke="#111" stroke-width="1.4"/>
<line x1="405.6" y1="366.56" x2="403.20000000000005" y2="366.56" stroke="#111" stroke-width="1.4"/>
<line x1="405.6" y1="322.72" x2="403.20000000000005" y2="322.72" stroke="#111" stroke-width="1.4"/>
<text x="405.60" y="543.8" font-size="20.3" text-anchor="middle" font-family="'Liberation Serif', serif" font-weight="bold">0</text>
<text x="473.62" y="543.8" font-size="20.3" text-anchor="middle" font-family="'Liberation Serif', serif" font-weight="bold">1</text>
<text x="541.65" y="543.8" font-size="20.3" text-anchor="middle" font-family="'Liberation Serif', serif" font-weight="bold">2</text>
<text x="609.68" y="543.8" font-size="20.3" text-anchor="middle" font-family="'Liberation Serif', serif" font-weight="bold">3</text>
<text x="677.70" y="543.8" font-size="20.3" text-anchor="middle" font-family="'Liberation Serif', serif" font-weight="bold">4</text>
<text x="398.60" y="527.00" font-size="20.3" text-anchor="end" font-family="'Liberation Serif', serif" font-weight="bold">0</text>
<text x="398.60" y="483.16" font-size="20.3" text-anchor="end" font-family="'Liberation Serif', serif" font-weight="bold">10</text>
<text x="398.60" y="439.32" font-size="20.3" text-anchor="end" font-family="'Liberation Serif', serif" font-weight="bold">20</text>
<text x="398.60" y="395.48" font-size="20.3" text-anchor="end" font-family="'Liberation Serif', serif" font-weight="bold">30</text>
<text x="398.60" y="351.64" font-size="20.3" text-anchor="end" font-family="'Liberation Serif', serif" font-weight="bold">40</text>
<text x="398.60" y="307.80" font-size="20.3" text-anchor="end" font-family="'Liberation Serif', serif" font-weight="bold">50</text>
<text x="544.4" y="560.3" font-size="21.2" text-anchor="middle" font-family="'Liberation Serif', serif" font-weight="bold">Size (μm)</text>
<text x="0" y="0" font-size="20.5" text-anchor="middle" transform="translate(368.0,404.0) rotate(-90)" font-family="'Liberation Serif', serif" font-weight="bold">Percentage (%)</text>
<text x="350.0" y="304.9" font-size="18.5" font-family="'Liberation Serif', serif" font-weight="bold">(j)</text>
</svg>
</body></html>
